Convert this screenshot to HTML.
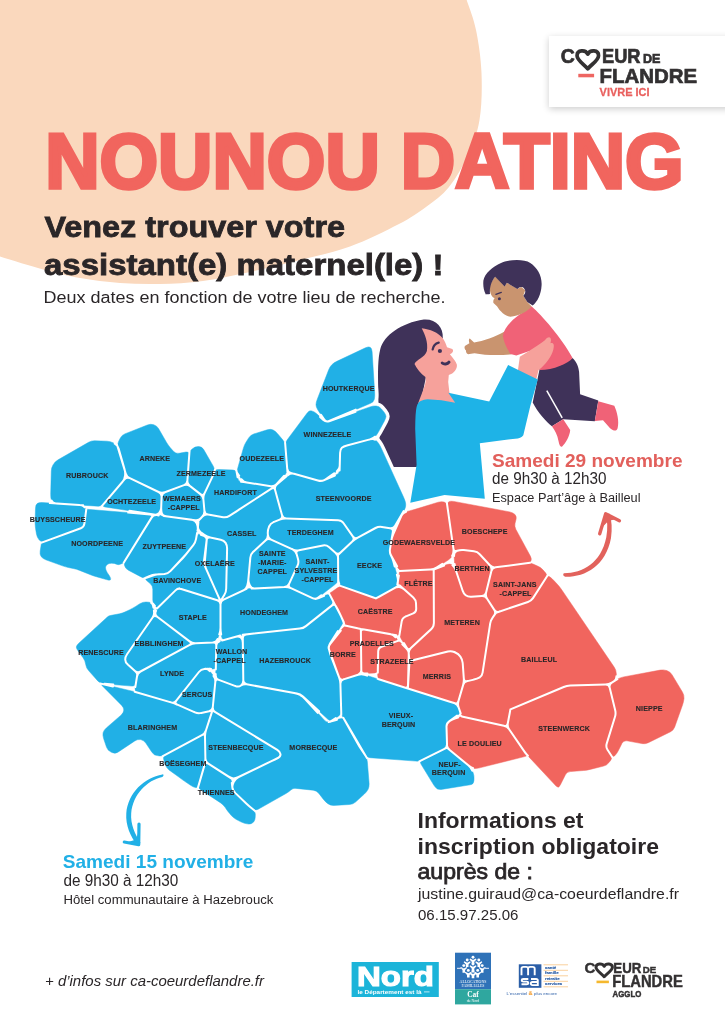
<!DOCTYPE html>
<html lang="fr"><head><meta charset="utf-8"><title>Nounou Dating</title>
<style>html,body{margin:0;padding:0;background:#fff}body{width:725px;height:1029px;overflow:hidden}svg{display:block;font-family:"Liberation Sans",sans-serif}</style></head><body>
<svg width="725" height="1029" viewBox="0 0 725 1029">
<defs><filter id="sh" x="-10%" y="-20%" width="120%" height="150%"><feGaussianBlur in="SourceAlpha" stdDeviation="3.6"/><feOffset dy="1.5"/><feComponentTransfer><feFuncA type="linear" slope="0.2"/></feComponentTransfer><feMerge><feMergeNode/><feMergeNode in="SourceGraphic"/></feMerge></filter></defs>
<rect width="725" height="1029" fill="#fff"/>
<path d="M466.0 -2.0 C468.7 6.3 473.4 17.5 476.0 30.0 C478.6 42.5 480.9 58.0 481.5 73.0 C482.1 88.0 481.8 106.3 479.5 120.0 C477.2 133.7 473.1 143.8 468.0 155.0 C462.9 166.2 456.0 178.3 449.0 187.0 C442.0 195.7 434.3 200.8 426.0 207.0 C417.7 213.2 411.7 217.4 399.0 224.0 C386.3 230.6 366.5 240.5 350.0 246.5 C333.5 252.5 316.7 255.8 300.0 260.0 C283.3 264.2 266.2 268.5 250.0 272.0 C233.8 275.5 218.0 279.0 203.0 281.0 C188.0 283.0 173.8 283.7 160.0 284.0 C146.2 284.3 133.3 284.0 120.0 283.0 C106.7 282.0 92.5 280.2 80.0 278.0 C67.5 275.8 58.3 273.6 45.0 270.0 C31.7 266.4 10.8 259.8 0.0 256.5 C-10.8 253.2 -16.7 296.1 -20.0 250.0 C-23.3 203.9 -100.0 25.0 -20.0 -20.0 C60.0 -65.0 379.0 -23.0 460.0 -20.0 C541.0 -17.0 463.3 -10.3 466.0 -2.0Z" fill="#FAD8BD"/>
<rect x="549" y="36" width="190" height="71" fill="#fff" filter="url(#sh)"/>
<g font-weight="700" fill="#333132" stroke="#333132" stroke-width="0.7">
<text x="560.8" y="63.4" font-size="20.4" textLength="14" lengthAdjust="spacingAndGlyphs">C</text>
<path d="M587.80 54.14 C585.65 49.62 577.05 49.62 577.05 55.64 C577.05 60.34 584.57 64.66 587.80 68.80 C591.02 64.66 598.55 60.34 598.55 55.64 C598.55 49.62 589.95 49.62 587.80 54.14Z" fill="none" stroke="#333132" stroke-width="3.70" stroke-linejoin="round"/>
<text x="602" y="63.4" font-size="20.4" textLength="38.5" lengthAdjust="spacingAndGlyphs">EUR</text>
<text x="643" y="63.4" font-size="13" textLength="17.5" lengthAdjust="spacingAndGlyphs">DE</text>
<text x="599.5" y="82.5" font-size="20.4" textLength="97.5" lengthAdjust="spacingAndGlyphs">FLANDRE</text>
<text x="599.6" y="95.8" font-size="11.8" fill="#E9605E" stroke="#E9605E" stroke-width="0.3" textLength="50" lengthAdjust="spacingAndGlyphs">VIVRE ICI</text>
</g>
<rect x="578.3" y="73.8" width="15.8" height="3.5" fill="#EE6662"/>
<text x="45.2" y="188.4" font-size="77.6" font-weight="700" fill="#F1655E" stroke="#F1655E" stroke-width="3.6" stroke-linejoin="miter" textLength="638.5" lengthAdjust="spacingAndGlyphs">NOUNOU DATING</text>
<text x="44.5" y="237" font-size="29" font-weight="700" fill="#2A2628" stroke="#2A2628" stroke-width="0.8" textLength="300.5" lengthAdjust="spacingAndGlyphs">Venez trouver votre</text>
<text x="44" y="275" font-size="29" font-weight="700" fill="#2A2628" stroke="#2A2628" stroke-width="0.8" textLength="399.5" lengthAdjust="spacingAndGlyphs">assistant(e) maternel(le) !</text>
<text x="43.5" y="303.2" font-size="16" fill="#2A2628" textLength="402" lengthAdjust="spacingAndGlyphs">Deux dates en fonction de votre lieu de recherche.</text>
<path d="M 423.8 319.6 C 436.2 318.8 443.4 327.2 442.8 338.2 L 432.1 346.9 L 420.7 402.8 L 416.6 419.3 L 417.2 466.9 L 390.7 466.9 C 386.6 464.8 381.4 452.4 379.5 440.0 C 378.7 423.4 378.3 406.9 378.3 390.3 C 377.7 371.7 377.9 358.3 380.3 349.0 C 384.1 335.5 401.0 323.1 423.8 319.6 Z" fill="#3F3259"/>
<path d="M 421.7 328.3 C 430.0 329.1 438.3 332.8 442.8 338.2 C 444.9 341.1 446.1 344.4 447.0 347.3 L 452.3 349.0 C 454.0 350.6 452.8 353.1 449.9 354.3 C 452.8 358.3 456.1 361.4 456.9 364.7 C 457.3 369.2 453.8 373.4 448.8 375.0 L 448.2 382.1 L 449.4 392.4 L 456.9 403.6 L 432.1 402.8 L 418.0 403.8 C 422.8 390.3 427.1 382.1 425.4 376.9 C 420.7 373.4 416.8 368.8 414.5 363.9 C 416.6 359.3 424.8 357.7 426.9 351.0 C 428.3 342.8 425.0 334.5 421.7 328.3 Z" fill="#F6A19B"/>
<path d="M 432.7 349.4 C 433.3 345.7 435.4 343.4 438.7 342.6" fill="none" stroke="#3F3259" stroke-width="2.3" stroke-linecap="round"/>
<circle cx="439.9" cy="351.0" r="2.1" fill="#3F3259"/>
<path d="M 442.2 363.0 C 444.1 364.7 447.4 364.3 449.0 362.2" fill="none" stroke="#3F3259" stroke-width="3" stroke-linecap="round"/>
<path d="M 539.7 368.4 L 560.8 364.9 L 572.6 357.9 C 577.2 362.6 578.6 367.2 579.1 371.9 L 580.1 394.2 L 598.3 400.5 L 594.8 421.2 L 563.2 419.3 L 551.9 426.3 C 546.8 422.3 537.4 411.8 532.7 402.4 Z" fill="#3F3259"/>
<path d="M 546.8 390.7 L 562.2 417.9" fill="none" stroke="#fff" stroke-width="1.5"/>
<path d="M 598.3 401.2 L 614.3 405.7 C 617.1 411.8 619.4 421.2 617.6 428.2 C 616.6 431.7 613.6 431.0 610.1 428.2 L 603.0 420.2 L 594.8 420.9 Z" fill="#F06277"/>
<path d="M 551.9 426.3 L 563.2 419.3 L 570.2 430.1 C 569.7 436.4 565.5 443.4 562.2 446.5 C 560.4 447.4 559.4 445.8 558.5 441.1 C 557.5 435.2 555.0 430.6 551.9 426.3 Z" fill="#F06277"/>
<path d="M 504.6 331.6 C 495.2 337.2 483.4 341.0 474.1 342.6 L 469.8 338.4 C 468.4 339.1 468.9 341.9 469.4 343.3 L 465.2 345.7 C 463.8 347.1 464.7 349.4 466.1 350.4 C 465.6 352.2 467.0 354.6 469.4 354.1 L 474.5 353.2 C 485.8 355.5 499.9 355.5 511.6 354.3 Z" fill="#C9946F"/>
<path d="M 518.6 315.2 L 531.5 306.3 C 542.1 315.7 560.8 336.8 572.6 357.9 C 567.9 363.7 553.8 369.6 539.7 370.1 L 530.3 350.8 L 516.3 355.5 L 510.4 353.9 C 506.9 348.5 503.4 341.4 502.9 335.6 C 504.6 327.4 511.6 320.3 518.6 315.2 Z" fill="#F06277"/>
<path d="M 517.4 374.3 L 519.8 356.7 C 525.7 353.2 537.4 346.1 544.9 340.3 C 547.2 336.8 551.0 335.8 551.0 340.3 L 550.5 343.3 C 553.3 342.4 554.7 344.3 553.3 349.7 C 551.9 355.5 545.6 364.9 538.6 370.1 L 536.2 379.4 Z" fill="#F6A19B"/>
<path d="M448.3 392.8 L489.2 401.5 L508.1 364.9 L537.8 379.4 L530.3 405.9 L523.3 435.2 Q521 438.5 515.1 438.7 L479.8 443.2 L484.8 498.8 L444.5 495 L410.3 502.8 L416.6 464.8 L415.2 429 Q415.3 412 416.6 406.9 Q418 402 420.7 401.1 Q424 399.3 427.6 399.3 L441.4 400.3 L455.2 402.8 Z" fill="#1EB3E7"/>
<path d="M 495.2 276.3 L 504.6 286.3 L 506.9 282.8 L 517.4 288.7 L 521.4 287.0 L 525.2 290.3 L 523.3 295.7 L 527.3 302.1 L 531.5 306.3 C 528.0 311.4 518.6 316.1 510.4 316.8 C 505.7 316.6 499.9 311.4 497.0 306.3 L 493.5 303.0 C 492.8 301.1 493.8 299.2 494.7 298.1 C 491.9 296.9 490.0 294.6 489.3 285.2 Z" fill="#C9946F"/>
<path d="M 483.4 280.5 C 484.6 273.4 492.8 266.4 501.0 262.9 C 506.9 259.8 523.3 258.2 530.3 262.9 C 537.4 267.6 542.1 275.8 541.6 285.2 C 541.1 294.6 537.4 301.6 532.7 305.6 L 527.3 302.1 L 523.3 295.7 C 526.1 293.4 526.1 288.7 522.1 287.0 C 520.5 286.6 518.6 287.5 517.4 288.9 L 506.9 282.8 L 504.6 286.6 L 495.2 276.7 C 491.7 280.5 489.3 287.5 490.0 294.1 C 487.7 294.6 486.3 294.1 485.8 294.6 C 483.4 289.9 483.0 285.2 483.4 280.5 Z" fill="#3F3259"/>
<path d="M 495.9 294.3 L 501.3 292.4" fill="none" stroke="#3F3259" stroke-width="1.3" stroke-linecap="round"/>
<circle cx="499.4" cy="298.8" r="1.5" fill="#3F3259"/>
<path d="M51.3 471.1 Q51.4 467.7 53.1 464.8 L53.4 464.4 Q55.1 461.5 58.1 459.8 L88.6 442.3 Q91.5 440.6 94.9 440.8 L107.0 441.2 Q110.4 441.4 113.4 442.9 L114.7 443.6 Q117.7 445.1 118.6 448.4 L124.5 469.1 Q125.4 472.4 125.1 475.8 L125.0 475.8 Q124.7 479.2 122.5 481.8 L103.8 503.8 Q101.6 506.4 98.2 506.2 L55.9 503.5 Q52.5 503.3 51.6 500.6 L51.6 500.6 Q50.6 497.9 50.7 494.5Z M118.0 448.0 Q117.0 444.8 118.5 441.7 L120.2 438.2 Q121.7 435.1 124.8 433.9 L147.4 425.0 Q150.5 423.8 153.7 424.7 L153.7 424.7 Q156.8 425.6 158.5 428.5 L166.4 442.2 Q168.1 445.1 170.3 447.7 L173.4 451.3 Q175.6 453.9 179.0 453.3 L186.1 452.0 Q189.5 451.4 189.2 454.8 L187.4 480.5 Q187.1 483.9 184.0 485.1 L164.9 492.2 Q161.7 493.4 158.6 492.0 L129.8 478.2 Q126.7 476.8 125.7 473.5Z M104.9 506.9 Q101.6 506.4 103.8 503.8 L124.5 479.4 Q126.7 476.8 129.8 478.2 L158.6 492.0 Q161.7 493.4 161.6 496.8 L161.2 507.4 Q161.1 510.8 159.2 513.0 L159.2 513.0 Q157.2 515.2 153.9 514.6Z M35.5 508.3 Q35.6 504.9 37.2 503.6 L37.2 503.6 Q38.8 502.4 42.2 502.6 L79.4 505.0 Q82.8 505.2 84.6 507.2 L84.6 507.2 Q86.3 509.2 85.8 512.6 L84.4 523.7 Q84.0 527.1 80.8 528.3 L44.8 541.5 Q41.6 542.6 39.3 540.1 L39.3 540.1 Q37.1 537.5 36.5 534.2 L35.6 528.8 Q35.1 525.5 35.1 522.1Z M85.8 512.6 Q86.3 509.2 86.3 509.2 L86.3 509.2 Q86.3 509.2 89.7 509.5 L150.0 514.4 Q153.4 514.7 151.6 517.6 L125.5 559.8 Q123.7 562.7 123.7 562.7 L123.7 562.7 Q123.7 562.7 121.0 563.9 L121.0 563.9 Q118.3 565.2 116.4 564.2 L116.4 564.2 Q114.6 563.2 111.7 563.2 L111.7 563.2 Q108.8 563.2 107.2 564.5 L107.2 564.5 Q105.5 565.8 105.5 567.8 L105.5 567.8 Q105.5 569.8 107.3 572.7 L109.5 576.0 Q111.3 578.9 110.5 579.7 L110.5 579.7 Q109.7 580.6 106.4 579.6 L96.4 576.7 Q93.1 575.8 89.9 574.5 L79.7 570.4 Q76.6 569.1 73.2 568.5 L68.3 567.5 Q65.0 566.8 61.8 565.6 L45.8 559.8 Q42.6 558.6 41.1 556.5 L41.1 556.5 Q39.6 554.3 40.2 551.0 L41.0 546.0 Q41.6 542.6 41.6 542.6 L41.6 542.6 Q41.6 542.6 44.8 541.5 L80.8 528.3 Q84.0 527.1 84.4 523.7Z M151.6 517.6 Q153.4 514.7 156.8 515.1 L192.0 519.8 Q195.4 520.2 196.7 523.4 L196.9 523.8 Q198.2 526.9 197.6 530.3 L196.0 539.1 Q195.4 542.4 193.3 545.1 L185.2 555.3 Q183.0 558.0 180.7 560.4 L170.4 571.1 Q168.0 573.6 164.6 573.9 L155.8 574.6 Q152.5 574.9 149.3 576.2 L147.3 577.1 Q144.2 578.5 141.1 576.9 L128.4 570.2 Q125.4 568.7 124.6 565.7 L124.6 565.7 Q123.7 562.7 125.5 559.8Z M161.6 496.8 Q161.7 493.4 164.9 492.2 L184.0 485.1 Q187.1 483.9 189.8 485.9 L200.4 494.1 Q203.1 496.1 203.4 499.5 L204.4 510.6 Q204.7 514.0 202.4 516.5 L200.9 518.2 Q198.6 520.7 195.2 520.2 L165.9 516.3 Q162.5 515.9 161.8 513.3 L161.8 513.3 Q161.1 510.8 161.2 507.4Z M189.2 454.8 Q189.5 451.4 192.0 449.1 L192.2 448.9 Q194.8 446.6 198.2 446.6 L198.6 446.6 Q202.0 446.6 203.7 449.6 L213.4 466.4 Q215.1 469.3 214.3 471.8 L214.3 471.8 Q213.6 474.3 212.1 477.4 L204.6 493.1 Q203.1 496.1 200.4 494.1 L189.8 485.9 Q187.1 483.9 187.4 480.5Z M214.3 471.8 Q215.1 469.3 218.5 469.5 L232.9 470.0 Q236.3 470.1 236.9 473.5 L237.8 478.2 Q238.4 481.5 241.0 481.8 L241.0 481.8 Q243.5 482.0 246.8 482.5 L270.8 486.2 Q274.2 486.7 274.2 486.7 L274.2 486.7 Q274.2 486.7 271.4 488.6 L229.4 515.9 Q226.5 517.8 223.2 517.2 L208.1 514.6 Q204.7 514.0 204.4 510.6 L203.4 499.5 Q203.1 496.1 204.6 493.1 L212.1 477.4 Q213.6 474.3 214.3 471.8Z M243.3 448.4 Q244.2 445.1 246.0 442.2 L248.7 437.9 Q250.5 435.1 253.7 434.0 L267.3 429.8 Q270.6 428.8 273.1 430.0 L273.1 430.0 Q275.6 431.3 277.8 433.9 L282.9 440.1 Q285.1 442.7 285.4 446.1 L287.2 468.6 Q287.5 472.0 285.2 474.5 L276.5 484.2 Q274.2 486.7 270.8 486.2 L246.8 482.5 Q243.5 482.0 241.6 479.2 L238.6 474.8 Q236.6 472.0 237.6 468.7Z M328.7 369.8 Q329.9 366.6 331.9 364.7 L331.9 364.7 Q333.8 362.8 336.9 361.3 L365.5 347.8 Q368.6 346.3 370.2 347.3 L370.2 347.3 Q371.8 348.3 372.1 351.7 L374.7 393.2 Q374.9 396.6 374.3 399.3 L374.3 399.3 Q373.8 402.0 370.6 403.3 L329.1 421.0 Q325.9 422.3 324.1 419.4 L317.9 410.0 Q316.0 407.2 316.0 404.8 L316.0 404.8 Q316.0 402.3 317.3 399.2Z M307.2 413.0 Q309.2 410.2 311.7 410.9 L311.7 410.9 Q314.2 411.5 316.7 413.8 L323.4 420.0 Q325.9 422.3 329.1 421.2 L370.0 406.9 Q373.2 405.7 376.2 406.0 L376.2 406.0 Q379.2 406.2 381.4 408.9 L383.9 411.9 Q386.0 414.5 386.0 416.3 L386.0 416.3 Q386.0 418.0 384.4 421.0 L378.4 432.1 Q376.7 435.1 375.0 436.8 L375.0 436.8 Q373.2 438.5 369.9 439.4 L346.9 445.5 Q343.6 446.3 341.9 447.8 L341.9 447.8 Q340.2 449.3 340.1 452.7 L339.9 459.6 Q339.8 463.0 339.7 466.1 L339.7 466.1 Q339.6 469.3 336.8 471.3 L327.7 477.8 Q325.0 479.8 323.1 480.6 L323.1 480.6 Q321.1 481.4 317.9 480.5 L290.8 472.9 Q287.5 472.0 287.2 468.6 L285.4 446.1 Q285.1 442.7 287.1 440.0Z M288.1 475.1 Q290.7 472.9 294.0 473.8 L317.9 480.5 Q321.1 481.4 324.3 480.1 L336.4 474.8 Q339.5 473.5 339.6 470.1 L340.1 452.7 Q340.2 449.3 341.9 447.8 L341.9 447.8 Q343.6 446.3 346.9 445.5 L369.9 439.4 Q373.2 438.5 375.0 439.7 L375.0 439.7 Q376.9 440.8 378.5 443.3 L378.5 443.3 Q380.2 445.8 381.6 448.9 L403.5 497.1 Q404.9 500.2 405.4 502.2 L405.4 502.2 Q405.9 504.2 405.6 506.4 L405.6 506.4 Q405.2 508.5 403.5 511.5 L395.1 525.8 Q393.4 528.7 390.0 528.2 L381.9 526.9 Q378.5 526.4 375.5 528.0 L357.8 537.6 Q354.8 539.2 352.8 536.4 L343.6 523.2 Q341.7 520.4 338.3 520.3 L286.3 518.5 Q282.9 518.4 282.0 515.1 L275.1 490.0 Q274.2 486.7 276.8 484.5Z M198.2 524.1 Q198.6 520.7 200.9 518.2 L202.4 516.5 Q204.7 514.0 208.1 514.6 L223.2 517.2 Q226.5 517.8 229.4 515.9 L233.3 513.4 Q236.2 511.5 239.0 509.6 L271.4 488.6 Q274.2 486.7 275.1 490.0 L275.6 491.8 Q276.5 495.1 277.4 498.4 L282.0 515.1 Q282.9 518.4 279.7 519.6 L273.5 522.1 Q270.4 523.3 269.1 526.5 L268.9 527.1 Q267.6 530.2 267.8 533.6 L267.9 534.8 Q268.0 538.2 265.5 540.5 L253.0 552.1 Q250.5 554.4 250.3 557.8 L248.4 578.9 Q248.2 582.3 247.3 585.6 L247.3 585.6 Q246.5 588.8 243.5 590.3 L223.6 599.7 Q220.5 601.2 220.5 601.2 L220.5 601.2 Q220.5 601.2 222.3 598.3 L224.4 594.7 Q226.2 591.8 226.2 588.4 L227.1 548.8 Q227.2 545.4 225.6 542.9 L225.6 542.9 Q224.0 540.4 220.7 539.7 L210.3 537.6 Q207.0 536.9 204.3 534.9 L200.4 532.0 Q197.7 530.0 198.0 526.6Z M206.6 540.3 Q207.0 536.9 210.3 537.6 L220.7 539.7 Q224.0 540.4 225.6 542.9 L225.6 542.9 Q227.2 545.4 227.1 548.8 L226.2 588.4 Q226.2 591.8 224.4 594.7 L222.3 598.3 Q220.5 601.2 219.1 598.1 L205.1 566.6 Q203.7 563.5 204.1 560.1Z M146.8 580.7 Q144.2 578.5 147.4 577.4 L152.2 575.7 Q155.4 574.6 158.8 574.3 L164.6 573.9 Q168.0 573.6 170.3 571.1 L183.5 556.9 Q185.8 554.5 187.9 551.8 L193.3 545.1 Q195.4 542.4 196.0 539.1 L196.4 536.7 Q197.0 533.3 200.2 534.5 L203.8 535.8 Q207.0 536.9 206.7 540.3 L204.8 561.8 Q204.5 565.2 205.9 568.3 L219.1 598.1 Q220.5 601.2 217.3 600.2 L181.2 589.0 Q177.9 588.0 175.5 590.4 L159.4 606.1 Q157.0 608.5 154.9 606.0 L154.9 606.0 Q152.8 603.5 152.8 600.1 L152.8 589.2 Q152.8 585.8 150.2 583.6Z M269.1 526.5 Q270.4 523.3 273.5 522.1 L279.7 519.6 Q282.9 518.4 286.3 518.5 L338.3 520.3 Q341.7 520.4 343.6 523.2 L352.8 536.4 Q354.8 539.2 352.3 541.5 L340.5 552.6 Q338.0 554.9 335.4 552.7 L328.9 547.1 Q326.4 544.9 323.0 545.5 L299.0 550.2 Q295.6 550.8 292.6 549.4 L271.1 539.6 Q268.0 538.2 267.9 534.8 L267.8 533.6 Q267.6 530.2 268.9 527.1Z M265.5 540.5 Q268.0 538.2 271.1 539.6 L292.6 549.4 Q295.6 550.8 296.6 554.1 L298.0 559.1 Q299.0 562.3 297.6 565.4 L289.2 583.6 Q287.8 586.7 284.4 586.9 L255.0 588.4 Q251.6 588.6 250.0 585.6 L249.8 585.3 Q248.2 582.3 248.4 578.9 L250.3 557.8 Q250.5 554.4 253.0 552.1Z M296.6 554.1 Q295.6 550.8 299.0 550.2 L323.0 545.5 Q326.4 544.9 328.9 547.1 L335.4 552.7 Q338.0 554.9 338.1 558.3 L338.2 578.6 Q338.2 582.0 335.5 584.1 L318.2 597.5 Q315.6 599.6 312.5 598.2 L290.9 588.1 Q287.8 586.7 289.2 583.6 L297.6 565.4 Q299.0 562.3 298.0 559.1Z M338.0 554.9 Q338.0 554.9 340.5 552.6 L352.3 541.5 Q354.8 539.2 357.8 537.6 L375.5 528.0 Q378.5 526.4 381.9 526.9 L390.0 528.2 Q393.4 528.7 392.8 532.1 L390.0 549.2 Q389.4 552.6 391.0 555.4 L391.0 555.4 Q392.6 558.3 393.4 561.6 L394.5 566.1 Q395.4 569.4 396.3 572.6 L397.4 576.8 Q398.4 580.1 397.6 583.4 L397.5 583.5 Q396.7 586.8 393.7 588.5 L378.9 596.8 Q375.9 598.4 375.9 598.4 L375.9 598.4 Q375.9 598.4 372.7 597.3 L343.6 587.0 Q340.4 585.9 339.3 583.9 L339.3 583.9 Q338.2 582.0 338.2 578.6 L338.1 558.3 Q338.0 554.9 338.0 554.9Z M220.5 604.6 Q220.5 601.2 223.6 599.7 L243.5 590.3 Q246.5 588.8 249.9 588.6 L284.4 586.9 Q287.8 586.7 290.9 588.1 L312.5 598.2 Q315.6 599.6 318.7 598.2 L326.1 595.0 Q329.2 593.6 330.8 596.6 L332.8 600.5 Q334.4 603.5 331.7 605.6 L305.9 626.1 Q303.2 628.3 299.8 628.6 L246.1 634.4 Q242.7 634.7 239.4 635.7 L225.6 639.5 Q222.4 640.4 221.7 637.1 L221.2 634.5 Q220.5 631.2 220.5 627.8Z M155.7 611.6 Q157.0 608.5 159.4 606.1 L175.5 590.4 Q177.9 588.0 179.6 588.6 L179.6 588.6 Q181.3 589.1 184.6 590.1 L217.3 600.2 Q220.5 601.2 220.5 604.6 L220.5 627.8 Q220.5 631.2 219.3 634.3 L217.5 639.0 Q216.3 642.2 212.9 642.4 L195.7 643.3 Q192.3 643.5 189.6 641.4 L157.2 616.8 Q154.5 614.7 155.7 611.6Z M152.6 617.5 Q154.5 614.7 157.2 616.8 L189.6 641.4 Q192.3 643.5 189.3 645.1 L140.5 671.5 Q137.5 673.1 135.0 670.9 L127.8 664.4 Q125.2 662.1 125.2 659.4 L125.2 659.4 Q125.2 656.8 127.2 654.0Z M76.3 647.0 Q76.3 645.5 78.8 643.2 L105.2 619.0 Q107.7 616.6 108.7 616.1 L108.7 616.1 Q109.7 615.6 113.0 615.0 L119.6 613.8 Q122.9 613.2 125.9 611.6 L129.8 609.7 Q132.8 608.2 135.7 606.4 L139.9 603.7 Q142.8 601.9 146.1 602.0 L146.1 602.0 Q149.4 602.1 151.1 602.8 L151.1 602.8 Q152.8 603.5 153.3 606.9 L154.0 611.4 Q154.5 614.7 152.6 617.5 L127.2 654.0 Q125.2 656.8 125.2 659.4 L125.2 659.4 Q125.2 662.1 127.8 664.4 L135.0 670.9 Q137.5 673.1 137.2 674.9 L137.2 674.9 Q137.0 676.8 136.4 680.1 L136.0 683.1 Q135.4 686.4 132.1 686.1 L103.5 683.8 Q100.1 683.5 97.8 680.9 L88.6 670.6 Q86.3 668.1 85.8 664.8 L85.6 663.9 Q85.1 660.6 83.1 657.8 L78.3 651.3 Q76.3 648.5 76.3 647.0Z M137.0 676.5 Q137.5 673.1 140.5 671.5 L189.3 645.1 Q192.3 643.5 195.7 643.3 L212.9 642.4 Q216.3 642.2 216.3 645.6 L215.9 666.1 Q215.8 669.5 212.4 669.0 L211.1 668.9 Q207.7 668.5 204.4 668.9 L204.4 668.9 Q201.0 669.3 198.9 672.0 L176.3 700.7 Q174.2 703.4 171.0 702.4 L137.9 692.6 Q134.6 691.7 135.1 688.3Z M177.4 704.7 Q174.2 703.4 176.3 700.7 L198.9 672.0 Q201.0 669.3 204.4 668.9 L204.4 668.9 Q207.7 668.5 209.8 671.1 L213.5 676.0 Q215.6 678.7 215.3 682.1 L212.8 707.0 Q212.4 710.4 209.1 711.2 L201.3 712.9 Q198.0 713.7 194.9 712.3Z M216.3 645.6 Q216.3 642.2 219.6 641.2 L235.7 636.7 Q238.9 635.8 240.9 637.6 L240.9 637.6 Q242.8 639.4 242.8 642.8 L243.3 680.3 Q243.4 683.7 241.0 685.5 L241.0 685.5 Q238.7 687.3 235.5 686.1 L218.8 679.9 Q215.6 678.7 215.7 675.3Z M242.8 638.1 Q242.7 634.7 246.1 634.4 L299.8 628.6 Q303.2 628.3 305.9 626.1 L331.7 605.6 Q334.4 603.5 336.0 606.2 L336.0 606.2 Q337.6 608.9 339.0 611.9 L342.3 618.8 Q343.7 621.9 341.9 624.7 L330.0 643.6 Q328.2 646.5 329.1 649.8 L329.3 650.5 Q330.1 653.8 331.3 656.9 L339.1 677.3 Q340.3 680.5 340.4 683.9 L341.2 711.0 Q341.3 714.4 338.5 716.2 L333.2 719.8 Q330.4 721.6 327.9 719.3 L302.7 696.3 Q300.2 694.0 296.9 693.4 L246.7 684.3 Q243.4 683.7 243.3 680.3Z M102.4 685.9 Q100.1 683.5 103.4 684.3 L131.3 690.9 Q134.6 691.7 137.9 692.6 L171.0 702.4 Q174.2 703.4 177.4 704.7 L194.9 712.3 Q198.0 713.7 201.3 712.9 L209.1 711.2 Q212.4 710.4 211.4 713.6 L210.2 717.3 Q209.1 720.6 208.1 723.8 L206.0 730.2 Q204.9 733.5 201.9 735.1 L165.8 754.6 Q162.8 756.2 159.4 755.9 L157.4 755.6 Q154.0 755.3 152.1 752.5 L145.8 743.1 Q143.9 740.2 140.8 739.6 L140.8 739.6 Q137.7 739.0 134.8 740.9 L117.9 752.2 Q115.1 754.1 112.0 752.5 L110.6 751.8 Q107.5 750.3 106.5 747.1 L103.6 738.5 Q102.5 735.2 103.1 732.7 L103.1 732.7 Q103.8 730.2 106.3 728.0 L121.3 714.9 Q123.8 712.6 123.8 710.1 L123.8 710.1 Q123.8 707.6 121.5 705.2Z M163.7 759.4 Q162.8 756.2 165.8 754.6 L201.9 735.1 Q204.9 733.5 205.0 736.9 L205.4 758.4 Q205.4 761.8 204.5 765.1 L198.8 784.7 Q197.9 787.9 195.6 787.6 L195.6 787.6 Q193.4 787.2 190.6 785.3 L184.4 781.1 Q181.6 779.2 178.9 777.1 L169.0 769.9 Q166.3 767.9 165.3 764.6Z M211.4 713.6 Q212.4 710.4 212.4 710.4 L212.4 710.4 Q212.4 710.4 215.3 712.2 L277.3 749.9 Q280.2 751.7 280.5 754.2 L280.5 754.2 Q280.7 756.6 277.9 758.0 L277.9 758.0 Q275.0 759.4 272.0 760.8 L238.6 777.0 Q235.5 778.4 233.4 778.4 L233.4 778.4 Q231.2 778.3 228.3 776.4 L208.3 763.7 Q205.4 761.8 205.4 758.4 L205.0 736.9 Q204.9 733.5 206.0 730.2Z M200.7 789.8 Q197.9 787.9 198.8 784.7 L204.5 765.1 Q205.4 761.8 208.3 763.7 L228.3 776.4 Q231.2 778.3 231.6 781.7 L232.3 787.1 Q232.8 790.5 235.2 792.9 L246.0 803.2 Q248.5 805.6 251.1 807.7 L252.5 808.8 Q255.1 811.0 255.3 814.1 L255.3 814.1 Q255.4 817.3 254.8 819.8 L254.8 819.8 Q254.1 822.3 251.6 823.5 L251.6 823.5 Q249.1 824.6 245.8 823.6 L244.6 823.3 Q241.3 822.3 238.4 820.6 L236.0 819.3 Q233.0 817.6 230.9 815.0 L229.7 813.6 Q227.5 811.0 225.7 808.2 L225.3 807.6 Q223.5 804.8 220.7 802.9Z M215.3 682.1 Q215.6 678.7 218.8 679.9 L235.5 686.1 Q238.7 687.3 241.0 685.5 L241.0 685.5 Q243.4 683.7 246.7 684.3 L294.1 692.9 Q297.4 693.5 300.1 695.0 L300.1 695.0 Q302.8 696.4 305.1 699.0 L324.4 720.2 Q326.6 722.8 329.9 721.8 L340.0 718.8 Q343.3 717.8 344.4 719.8 L344.4 719.8 Q345.5 721.8 347.2 724.8 L357.7 743.4 Q359.3 746.3 361.2 749.2 L365.2 755.2 Q367.0 758.0 367.3 761.4 L369.1 783.4 Q369.3 786.8 368.1 789.3 L368.1 789.3 Q366.8 791.8 364.3 794.1 L355.5 802.1 Q353.0 804.3 349.6 804.5 L333.8 805.4 Q330.4 805.6 327.9 803.7 L327.9 803.7 Q325.4 801.8 323.3 799.2 L318.7 793.2 Q316.6 790.5 313.2 790.2 L296.1 788.4 Q292.8 788.0 290.9 789.9 L290.9 789.9 Q289.0 791.8 286.0 793.5 L258.1 809.3 Q255.1 811.0 252.5 808.8 L251.1 807.7 Q248.5 805.6 246.0 803.2 L235.2 792.9 Q232.8 790.5 232.4 788.0 L232.4 788.0 Q232.1 785.4 233.6 782.4 L234.0 781.5 Q235.5 778.4 238.6 777.0 L277.7 758.1 Q280.7 756.6 280.5 754.2 L280.5 754.2 Q280.2 751.7 277.3 749.9 L215.3 712.2 Q212.4 710.4 212.8 707.0Z M340.4 683.9 Q340.3 680.5 343.5 679.4 L358.1 674.7 Q361.3 673.7 364.5 674.7 L404.6 687.5 Q407.9 688.5 411.1 689.5 L454.3 703.1 Q457.5 704.2 458.6 707.4 L459.5 709.8 Q460.6 713.1 457.9 715.1 L449.2 721.4 Q446.4 723.4 446.5 726.8 L447.0 744.3 Q447.1 747.7 444.0 749.2 L422.4 759.9 Q419.3 761.4 415.9 761.1 L370.0 757.7 Q366.6 757.4 364.9 754.5 L343.0 717.3 Q341.3 714.4 341.2 711.0Z M421.1 764.3 Q419.3 761.4 422.4 759.9 L444.0 749.2 Q447.1 747.7 447.1 747.7 L447.1 747.7 Q447.1 747.7 449.7 749.9 L468.3 765.3 Q471.0 767.5 472.3 770.7 L473.0 772.4 Q474.3 775.6 474.0 779.0 L473.9 780.9 Q473.6 784.3 470.2 784.8 L442.7 789.2 Q439.3 789.7 437.4 788.9 L437.4 788.9 Q435.6 788.0 433.8 785.1Z M409.3 510.9 Q412.6 510.0 415.9 509.1 L438.3 502.2 Q441.5 501.3 444.2 502.1 L444.2 502.1 Q446.9 503.0 447.4 506.4 L453.4 548.7 Q453.9 552.0 452.5 555.1 L452.5 555.2 Q451.0 558.2 448.2 560.1 L436.5 567.6 Q433.7 569.5 430.3 569.6 L403.1 570.8 Q399.7 570.9 398.0 567.9 L391.1 555.6 Q389.4 552.6 390.0 549.2 L391.4 540.7 Q391.9 537.3 393.3 534.2 L401.5 515.6 Q402.9 512.5 406.2 511.7Z M447.4 506.4 Q446.9 503.0 448.6 501.9 L448.6 501.9 Q450.3 500.8 453.6 501.4 L509.7 511.9 Q513.0 512.6 514.9 514.4 L514.9 514.4 Q516.8 516.3 516.0 519.6 L515.1 523.1 Q514.3 526.4 515.9 529.4 L530.3 556.0 Q531.9 559.0 530.9 560.9 L530.9 560.9 Q530.0 562.8 526.6 563.2 L495.6 567.3 Q492.2 567.8 489.9 565.3 L479.7 554.2 Q477.4 551.7 474.0 551.3 L463.7 550.0 Q460.3 549.6 457.2 550.8 L457.1 550.8 Q453.9 552.0 453.4 548.7Z M454.1 555.4 Q453.9 552.0 457.1 550.8 L457.2 550.8 Q460.3 549.6 463.7 550.0 L474.0 551.3 Q477.4 551.7 479.7 554.2 L489.9 565.3 Q492.2 567.8 491.4 571.1 L486.1 592.5 Q485.3 595.8 481.9 596.0 L471.3 596.8 Q467.9 597.0 465.7 595.3 L465.7 595.3 Q463.6 593.5 462.5 590.3 L455.9 570.5 Q454.8 567.3 454.6 563.9Z M491.4 571.1 Q492.2 567.8 495.6 567.3 L526.6 563.2 Q530.0 562.8 533.1 564.1 L537.5 566.0 Q540.7 567.3 542.9 569.8 L545.5 572.8 Q547.7 575.3 545.8 578.2 L533.0 598.1 Q531.1 600.9 527.9 602.0 L499.3 611.6 Q496.1 612.7 494.3 609.9 L487.1 598.7 Q485.3 595.8 486.1 592.5Z M399.1 574.3 Q399.7 570.9 399.7 570.9 L399.7 570.9 Q399.7 570.9 403.1 570.8 L430.3 569.6 Q433.7 569.5 433.7 569.5 L433.7 569.5 Q433.7 569.5 433.7 572.9 L433.9 623.1 Q433.9 626.5 431.4 628.9 L410.9 648.1 Q408.4 650.5 406.6 647.6 L401.1 638.7 Q399.3 635.8 399.9 632.4 L401.7 621.3 Q402.2 617.9 405.4 616.6 L413.2 613.4 Q416.3 612.1 416.2 608.7 L416.0 603.1 Q415.8 599.7 413.3 597.4 L400.1 585.7 Q397.5 583.4 398.1 580.1Z M433.7 569.5 Q433.7 569.5 436.9 568.3 L447.1 564.5 Q450.3 563.3 452.5 565.3 L452.5 565.3 Q454.8 567.3 455.9 570.5 L462.5 590.3 Q463.6 593.5 465.7 595.3 L465.7 595.3 Q467.9 597.0 471.3 596.8 L481.9 596.0 Q485.3 595.8 487.1 598.7 L494.3 609.9 Q496.1 612.7 494.1 615.5 L492.8 617.3 Q490.8 620.0 490.2 623.4 L482.6 672.6 Q482.1 676.0 479.7 677.4 L479.7 677.4 Q477.2 678.9 473.9 679.6 L467.4 681.1 Q464.0 681.8 463.8 678.4 L462.7 663.0 Q462.5 659.6 460.5 656.8 L460.4 656.6 Q458.4 653.8 455.3 652.5 L454.3 652.0 Q451.2 650.7 447.9 651.5 L412.8 660.2 Q409.5 661.0 409.1 657.7 L408.8 653.9 Q408.4 650.5 410.9 648.1 L428.3 631.8 Q430.8 629.5 432.3 628.0 L432.3 628.0 Q433.9 626.5 433.9 623.1 L433.7 572.9 Q433.7 569.5 433.7 569.5Z M329.2 593.6 Q329.2 593.6 332.0 591.7 L337.6 587.8 Q340.4 585.9 343.6 587.0 L372.7 597.3 Q375.9 598.4 375.9 598.4 L375.9 598.4 Q375.9 598.4 378.9 596.8 L393.7 588.5 Q396.7 586.8 399.3 587.0 L399.3 587.0 Q401.8 587.2 404.4 589.5 L413.3 597.4 Q415.8 599.7 416.0 603.1 L416.2 608.7 Q416.3 612.1 413.2 613.4 L405.4 616.6 Q402.2 617.9 401.7 621.3 L399.9 632.4 Q399.3 635.8 396.3 635.3 L396.3 635.3 Q393.4 634.7 393.4 634.7 L393.4 634.7 Q393.4 634.7 390.0 634.1 L364.2 629.5 Q360.8 628.9 357.5 628.2 L348.4 626.2 Q345.0 625.4 343.7 622.3 L342.7 620.1 Q341.4 616.9 339.8 613.9 L330.8 596.6 Q329.2 593.6 329.2 593.6Z M328.7 648.4 Q328.2 646.5 330.3 643.8 L342.9 628.1 Q345.0 625.4 348.4 626.2 L357.5 628.2 Q360.8 628.9 360.8 628.9 L360.8 628.9 Q360.8 628.9 360.9 632.3 L361.3 670.3 Q361.3 673.7 358.1 674.7 L343.5 679.4 Q340.3 680.5 339.1 677.3 L330.4 653.4 Q329.2 650.2 328.7 648.4Z M360.9 632.3 Q360.8 628.9 364.2 629.5 L390.0 634.1 Q393.4 634.7 395.6 637.3 L396.4 638.1 Q398.6 640.6 395.4 641.7 L381.5 646.7 Q378.3 647.8 378.2 651.2 L377.8 669.4 Q377.8 672.8 374.4 673.0 L364.7 673.5 Q361.3 673.7 361.3 670.3Z M378.2 651.2 Q378.3 647.8 381.5 646.7 L395.4 641.7 Q398.6 640.6 401.0 643.0 L406.0 648.1 Q408.4 650.5 408.6 652.2 L408.6 652.2 Q408.8 653.9 408.7 657.3 L408.0 685.1 Q407.9 688.5 404.6 687.5 L380.9 679.9 Q377.6 678.9 377.7 675.5Z M409.3 664.4 Q409.5 661.0 412.8 660.2 L447.9 651.5 Q451.2 650.7 454.3 652.0 L455.3 652.5 Q458.4 653.8 460.4 656.6 L460.5 656.8 Q462.5 659.6 462.7 663.0 L463.8 678.4 Q464.0 681.8 463.1 685.1 L458.5 700.9 Q457.5 704.2 454.9 703.3 L454.9 703.3 Q452.3 702.5 449.1 701.5 L411.1 689.5 Q407.9 688.5 407.9 688.5 L407.9 688.5 Q407.9 688.5 408.1 685.1Z M549.7 576.8 Q551.8 578.3 554.1 580.8 L557.8 584.8 Q560.1 587.3 562.0 590.2 L614.3 667.3 Q616.2 670.1 616.3 673.5 L616.4 676.3 Q616.6 679.7 613.6 681.5 L611.8 682.6 Q608.9 684.4 605.5 684.5 L570.2 685.5 Q566.8 685.6 563.7 687.0 L513.5 708.1 Q510.4 709.4 510.4 709.4 L510.4 709.4 Q510.4 709.4 509.8 712.7 L507.8 723.2 Q507.2 726.5 503.9 725.8 L465.1 717.1 Q461.8 716.4 460.7 713.2 L458.6 707.4 Q457.5 704.2 458.5 700.9 L463.1 685.1 Q464.0 681.8 467.4 681.1 L473.9 679.6 Q477.2 678.9 479.7 677.4 L479.7 677.4 Q482.1 676.0 482.6 672.6 L490.2 623.4 Q490.8 620.0 492.8 617.3 L494.1 615.5 Q496.1 612.7 496.1 612.7 L496.1 612.7 Q496.1 612.7 499.3 611.6 L527.9 602.0 Q531.1 600.9 533.0 598.1 L545.8 578.2 Q547.7 575.3 549.7 576.8Z M609.7 687.7 Q608.9 684.4 611.8 682.6 L617.3 679.2 Q620.2 677.5 623.6 676.9 L660.3 670.1 Q663.6 669.5 666.8 670.6 L667.1 670.7 Q670.3 671.8 672.0 674.7 L682.5 692.2 Q684.3 695.2 684.0 698.5 L684.0 698.5 Q683.6 701.8 682.5 705.0 L674.7 727.0 Q673.6 730.2 670.6 731.7 L648.3 742.7 Q645.2 744.2 641.9 743.6 L626.9 740.8 Q623.5 740.2 622.0 743.3 L618.4 750.5 Q616.9 753.6 614.8 755.7 L614.8 755.7 Q612.7 757.7 610.9 754.9 L607.5 749.8 Q605.7 746.9 606.7 743.6 L615.0 716.8 Q616.0 713.5 615.2 710.2Z M510.4 709.4 Q510.4 709.4 513.5 708.1 L563.7 687.0 Q566.8 685.6 570.2 685.5 L605.5 684.5 Q608.9 684.4 609.7 687.7 L615.2 710.2 Q616.0 713.5 615.0 716.8 L606.7 743.6 Q605.7 746.9 607.5 749.8 L610.9 754.9 Q612.7 757.7 610.6 760.4 L608.9 762.6 Q606.9 765.3 603.6 766.1 L590.1 769.4 Q586.8 770.3 583.4 770.5 L570.2 771.6 Q566.8 771.9 565.3 775.0 L560.0 785.6 Q558.5 788.6 556.1 786.1 L527.8 755.7 Q525.5 753.2 523.6 750.4 L509.1 729.3 Q507.2 726.5 507.8 723.2 L509.8 712.7 Q510.4 709.4 510.4 709.4Z M446.5 726.8 Q446.4 723.4 449.0 721.5 L449.0 721.5 Q451.6 719.6 454.8 718.6 L458.6 717.4 Q461.8 716.4 465.1 717.1 L503.9 725.8 Q507.2 726.5 509.1 729.3 L523.6 750.4 Q525.5 753.2 526.7 754.5 L526.7 754.5 Q527.9 755.8 524.6 756.6 L478.6 768.1 Q475.3 768.9 473.1 768.2 L473.1 768.2 Q471.0 767.5 468.3 765.3 L449.7 749.9 Q447.1 747.7 447.0 745.5 L447.0 745.5 Q447.0 743.3 446.9 739.9Z" fill="#fff" stroke="#fff" stroke-width="7.4" stroke-linejoin="round"/>
<g stroke-width="0.5" stroke-linejoin="round">
<path d="M51.3 471.1 Q51.4 467.7 53.1 464.8 L53.4 464.4 Q55.1 461.5 58.1 459.8 L88.6 442.3 Q91.5 440.6 94.9 440.8 L107.0 441.2 Q110.4 441.4 113.4 442.9 L114.7 443.6 Q117.7 445.1 118.6 448.4 L124.5 469.1 Q125.4 472.4 125.1 475.8 L125.0 475.8 Q124.7 479.2 122.5 481.8 L103.8 503.8 Q101.6 506.4 98.2 506.2 L55.9 503.5 Q52.5 503.3 51.6 500.6 L51.6 500.6 Q50.6 497.9 50.7 494.5Z" fill="#21B0E6" stroke="#21B0E6"/>
<path d="M118.0 448.0 Q117.0 444.8 118.5 441.7 L120.2 438.2 Q121.7 435.1 124.8 433.9 L147.4 425.0 Q150.5 423.8 153.7 424.7 L153.7 424.7 Q156.8 425.6 158.5 428.5 L166.4 442.2 Q168.1 445.1 170.3 447.7 L173.4 451.3 Q175.6 453.9 179.0 453.3 L186.1 452.0 Q189.5 451.4 189.2 454.8 L187.4 480.5 Q187.1 483.9 184.0 485.1 L164.9 492.2 Q161.7 493.4 158.6 492.0 L129.8 478.2 Q126.7 476.8 125.7 473.5Z" fill="#21B0E6" stroke="#21B0E6"/>
<path d="M104.9 506.9 Q101.6 506.4 103.8 503.8 L124.5 479.4 Q126.7 476.8 129.8 478.2 L158.6 492.0 Q161.7 493.4 161.6 496.8 L161.2 507.4 Q161.1 510.8 159.2 513.0 L159.2 513.0 Q157.2 515.2 153.9 514.6Z" fill="#21B0E6" stroke="#21B0E6"/>
<path d="M35.5 508.3 Q35.6 504.9 37.2 503.6 L37.2 503.6 Q38.8 502.4 42.2 502.6 L79.4 505.0 Q82.8 505.2 84.6 507.2 L84.6 507.2 Q86.3 509.2 85.8 512.6 L84.4 523.7 Q84.0 527.1 80.8 528.3 L44.8 541.5 Q41.6 542.6 39.3 540.1 L39.3 540.1 Q37.1 537.5 36.5 534.2 L35.6 528.8 Q35.1 525.5 35.1 522.1Z" fill="#21B0E6" stroke="#21B0E6"/>
<path d="M85.8 512.6 Q86.3 509.2 86.3 509.2 L86.3 509.2 Q86.3 509.2 89.7 509.5 L150.0 514.4 Q153.4 514.7 151.6 517.6 L125.5 559.8 Q123.7 562.7 123.7 562.7 L123.7 562.7 Q123.7 562.7 121.0 563.9 L121.0 563.9 Q118.3 565.2 116.4 564.2 L116.4 564.2 Q114.6 563.2 111.7 563.2 L111.7 563.2 Q108.8 563.2 107.2 564.5 L107.2 564.5 Q105.5 565.8 105.5 567.8 L105.5 567.8 Q105.5 569.8 107.3 572.7 L109.5 576.0 Q111.3 578.9 110.5 579.7 L110.5 579.7 Q109.7 580.6 106.4 579.6 L96.4 576.7 Q93.1 575.8 89.9 574.5 L79.7 570.4 Q76.6 569.1 73.2 568.5 L68.3 567.5 Q65.0 566.8 61.8 565.6 L45.8 559.8 Q42.6 558.6 41.1 556.5 L41.1 556.5 Q39.6 554.3 40.2 551.0 L41.0 546.0 Q41.6 542.6 41.6 542.6 L41.6 542.6 Q41.6 542.6 44.8 541.5 L80.8 528.3 Q84.0 527.1 84.4 523.7Z" fill="#21B0E6" stroke="#21B0E6"/>
<path d="M151.6 517.6 Q153.4 514.7 156.8 515.1 L192.0 519.8 Q195.4 520.2 196.7 523.4 L196.9 523.8 Q198.2 526.9 197.6 530.3 L196.0 539.1 Q195.4 542.4 193.3 545.1 L185.2 555.3 Q183.0 558.0 180.7 560.4 L170.4 571.1 Q168.0 573.6 164.6 573.9 L155.8 574.6 Q152.5 574.9 149.3 576.2 L147.3 577.1 Q144.2 578.5 141.1 576.9 L128.4 570.2 Q125.4 568.7 124.6 565.7 L124.6 565.7 Q123.7 562.7 125.5 559.8Z" fill="#21B0E6" stroke="#21B0E6"/>
<path d="M161.6 496.8 Q161.7 493.4 164.9 492.2 L184.0 485.1 Q187.1 483.9 189.8 485.9 L200.4 494.1 Q203.1 496.1 203.4 499.5 L204.4 510.6 Q204.7 514.0 202.4 516.5 L200.9 518.2 Q198.6 520.7 195.2 520.2 L165.9 516.3 Q162.5 515.9 161.8 513.3 L161.8 513.3 Q161.1 510.8 161.2 507.4Z" fill="#21B0E6" stroke="#21B0E6"/>
<path d="M189.2 454.8 Q189.5 451.4 192.0 449.1 L192.2 448.9 Q194.8 446.6 198.2 446.6 L198.6 446.6 Q202.0 446.6 203.7 449.6 L213.4 466.4 Q215.1 469.3 214.3 471.8 L214.3 471.8 Q213.6 474.3 212.1 477.4 L204.6 493.1 Q203.1 496.1 200.4 494.1 L189.8 485.9 Q187.1 483.9 187.4 480.5Z" fill="#21B0E6" stroke="#21B0E6"/>
<path d="M214.3 471.8 Q215.1 469.3 218.5 469.5 L232.9 470.0 Q236.3 470.1 236.9 473.5 L237.8 478.2 Q238.4 481.5 241.0 481.8 L241.0 481.8 Q243.5 482.0 246.8 482.5 L270.8 486.2 Q274.2 486.7 274.2 486.7 L274.2 486.7 Q274.2 486.7 271.4 488.6 L229.4 515.9 Q226.5 517.8 223.2 517.2 L208.1 514.6 Q204.7 514.0 204.4 510.6 L203.4 499.5 Q203.1 496.1 204.6 493.1 L212.1 477.4 Q213.6 474.3 214.3 471.8Z" fill="#21B0E6" stroke="#21B0E6"/>
<path d="M243.3 448.4 Q244.2 445.1 246.0 442.2 L248.7 437.9 Q250.5 435.1 253.7 434.0 L267.3 429.8 Q270.6 428.8 273.1 430.0 L273.1 430.0 Q275.6 431.3 277.8 433.9 L282.9 440.1 Q285.1 442.7 285.4 446.1 L287.2 468.6 Q287.5 472.0 285.2 474.5 L276.5 484.2 Q274.2 486.7 270.8 486.2 L246.8 482.5 Q243.5 482.0 241.6 479.2 L238.6 474.8 Q236.6 472.0 237.6 468.7Z" fill="#21B0E6" stroke="#21B0E6"/>
<path d="M328.7 369.8 Q329.9 366.6 331.9 364.7 L331.9 364.7 Q333.8 362.8 336.9 361.3 L365.5 347.8 Q368.6 346.3 370.2 347.3 L370.2 347.3 Q371.8 348.3 372.1 351.7 L374.7 393.2 Q374.9 396.6 374.3 399.3 L374.3 399.3 Q373.8 402.0 370.6 403.3 L329.1 421.0 Q325.9 422.3 324.1 419.4 L317.9 410.0 Q316.0 407.2 316.0 404.8 L316.0 404.8 Q316.0 402.3 317.3 399.2Z" fill="#21B0E6" stroke="#21B0E6"/>
<path d="M307.2 413.0 Q309.2 410.2 311.7 410.9 L311.7 410.9 Q314.2 411.5 316.7 413.8 L323.4 420.0 Q325.9 422.3 329.1 421.2 L370.0 406.9 Q373.2 405.7 376.2 406.0 L376.2 406.0 Q379.2 406.2 381.4 408.9 L383.9 411.9 Q386.0 414.5 386.0 416.3 L386.0 416.3 Q386.0 418.0 384.4 421.0 L378.4 432.1 Q376.7 435.1 375.0 436.8 L375.0 436.8 Q373.2 438.5 369.9 439.4 L346.9 445.5 Q343.6 446.3 341.9 447.8 L341.9 447.8 Q340.2 449.3 340.1 452.7 L339.9 459.6 Q339.8 463.0 339.7 466.1 L339.7 466.1 Q339.6 469.3 336.8 471.3 L327.7 477.8 Q325.0 479.8 323.1 480.6 L323.1 480.6 Q321.1 481.4 317.9 480.5 L290.8 472.9 Q287.5 472.0 287.2 468.6 L285.4 446.1 Q285.1 442.7 287.1 440.0Z" fill="#21B0E6" stroke="#21B0E6"/>
<path d="M288.1 475.1 Q290.7 472.9 294.0 473.8 L317.9 480.5 Q321.1 481.4 324.3 480.1 L336.4 474.8 Q339.5 473.5 339.6 470.1 L340.1 452.7 Q340.2 449.3 341.9 447.8 L341.9 447.8 Q343.6 446.3 346.9 445.5 L369.9 439.4 Q373.2 438.5 375.0 439.7 L375.0 439.7 Q376.9 440.8 378.5 443.3 L378.5 443.3 Q380.2 445.8 381.6 448.9 L403.5 497.1 Q404.9 500.2 405.4 502.2 L405.4 502.2 Q405.9 504.2 405.6 506.4 L405.6 506.4 Q405.2 508.5 403.5 511.5 L395.1 525.8 Q393.4 528.7 390.0 528.2 L381.9 526.9 Q378.5 526.4 375.5 528.0 L357.8 537.6 Q354.8 539.2 352.8 536.4 L343.6 523.2 Q341.7 520.4 338.3 520.3 L286.3 518.5 Q282.9 518.4 282.0 515.1 L275.1 490.0 Q274.2 486.7 276.8 484.5Z" fill="#21B0E6" stroke="#21B0E6"/>
<path d="M198.2 524.1 Q198.6 520.7 200.9 518.2 L202.4 516.5 Q204.7 514.0 208.1 514.6 L223.2 517.2 Q226.5 517.8 229.4 515.9 L233.3 513.4 Q236.2 511.5 239.0 509.6 L271.4 488.6 Q274.2 486.7 275.1 490.0 L275.6 491.8 Q276.5 495.1 277.4 498.4 L282.0 515.1 Q282.9 518.4 279.7 519.6 L273.5 522.1 Q270.4 523.3 269.1 526.5 L268.9 527.1 Q267.6 530.2 267.8 533.6 L267.9 534.8 Q268.0 538.2 265.5 540.5 L253.0 552.1 Q250.5 554.4 250.3 557.8 L248.4 578.9 Q248.2 582.3 247.3 585.6 L247.3 585.6 Q246.5 588.8 243.5 590.3 L223.6 599.7 Q220.5 601.2 220.5 601.2 L220.5 601.2 Q220.5 601.2 222.3 598.3 L224.4 594.7 Q226.2 591.8 226.2 588.4 L227.1 548.8 Q227.2 545.4 225.6 542.9 L225.6 542.9 Q224.0 540.4 220.7 539.7 L210.3 537.6 Q207.0 536.9 204.3 534.9 L200.4 532.0 Q197.7 530.0 198.0 526.6Z" fill="#21B0E6" stroke="#21B0E6"/>
<path d="M206.6 540.3 Q207.0 536.9 210.3 537.6 L220.7 539.7 Q224.0 540.4 225.6 542.9 L225.6 542.9 Q227.2 545.4 227.1 548.8 L226.2 588.4 Q226.2 591.8 224.4 594.7 L222.3 598.3 Q220.5 601.2 219.1 598.1 L205.1 566.6 Q203.7 563.5 204.1 560.1Z" fill="#21B0E6" stroke="#21B0E6"/>
<path d="M146.8 580.7 Q144.2 578.5 147.4 577.4 L152.2 575.7 Q155.4 574.6 158.8 574.3 L164.6 573.9 Q168.0 573.6 170.3 571.1 L183.5 556.9 Q185.8 554.5 187.9 551.8 L193.3 545.1 Q195.4 542.4 196.0 539.1 L196.4 536.7 Q197.0 533.3 200.2 534.5 L203.8 535.8 Q207.0 536.9 206.7 540.3 L204.8 561.8 Q204.5 565.2 205.9 568.3 L219.1 598.1 Q220.5 601.2 217.3 600.2 L181.2 589.0 Q177.9 588.0 175.5 590.4 L159.4 606.1 Q157.0 608.5 154.9 606.0 L154.9 606.0 Q152.8 603.5 152.8 600.1 L152.8 589.2 Q152.8 585.8 150.2 583.6Z" fill="#21B0E6" stroke="#21B0E6"/>
<path d="M269.1 526.5 Q270.4 523.3 273.5 522.1 L279.7 519.6 Q282.9 518.4 286.3 518.5 L338.3 520.3 Q341.7 520.4 343.6 523.2 L352.8 536.4 Q354.8 539.2 352.3 541.5 L340.5 552.6 Q338.0 554.9 335.4 552.7 L328.9 547.1 Q326.4 544.9 323.0 545.5 L299.0 550.2 Q295.6 550.8 292.6 549.4 L271.1 539.6 Q268.0 538.2 267.9 534.8 L267.8 533.6 Q267.6 530.2 268.9 527.1Z" fill="#21B0E6" stroke="#21B0E6"/>
<path d="M265.5 540.5 Q268.0 538.2 271.1 539.6 L292.6 549.4 Q295.6 550.8 296.6 554.1 L298.0 559.1 Q299.0 562.3 297.6 565.4 L289.2 583.6 Q287.8 586.7 284.4 586.9 L255.0 588.4 Q251.6 588.6 250.0 585.6 L249.8 585.3 Q248.2 582.3 248.4 578.9 L250.3 557.8 Q250.5 554.4 253.0 552.1Z" fill="#21B0E6" stroke="#21B0E6"/>
<path d="M296.6 554.1 Q295.6 550.8 299.0 550.2 L323.0 545.5 Q326.4 544.9 328.9 547.1 L335.4 552.7 Q338.0 554.9 338.1 558.3 L338.2 578.6 Q338.2 582.0 335.5 584.1 L318.2 597.5 Q315.6 599.6 312.5 598.2 L290.9 588.1 Q287.8 586.7 289.2 583.6 L297.6 565.4 Q299.0 562.3 298.0 559.1Z" fill="#21B0E6" stroke="#21B0E6"/>
<path d="M338.0 554.9 Q338.0 554.9 340.5 552.6 L352.3 541.5 Q354.8 539.2 357.8 537.6 L375.5 528.0 Q378.5 526.4 381.9 526.9 L390.0 528.2 Q393.4 528.7 392.8 532.1 L390.0 549.2 Q389.4 552.6 391.0 555.4 L391.0 555.4 Q392.6 558.3 393.4 561.6 L394.5 566.1 Q395.4 569.4 396.3 572.6 L397.4 576.8 Q398.4 580.1 397.6 583.4 L397.5 583.5 Q396.7 586.8 393.7 588.5 L378.9 596.8 Q375.9 598.4 375.9 598.4 L375.9 598.4 Q375.9 598.4 372.7 597.3 L343.6 587.0 Q340.4 585.9 339.3 583.9 L339.3 583.9 Q338.2 582.0 338.2 578.6 L338.1 558.3 Q338.0 554.9 338.0 554.9Z" fill="#21B0E6" stroke="#21B0E6"/>
<path d="M220.5 604.6 Q220.5 601.2 223.6 599.7 L243.5 590.3 Q246.5 588.8 249.9 588.6 L284.4 586.9 Q287.8 586.7 290.9 588.1 L312.5 598.2 Q315.6 599.6 318.7 598.2 L326.1 595.0 Q329.2 593.6 330.8 596.6 L332.8 600.5 Q334.4 603.5 331.7 605.6 L305.9 626.1 Q303.2 628.3 299.8 628.6 L246.1 634.4 Q242.7 634.7 239.4 635.7 L225.6 639.5 Q222.4 640.4 221.7 637.1 L221.2 634.5 Q220.5 631.2 220.5 627.8Z" fill="#21B0E6" stroke="#21B0E6"/>
<path d="M155.7 611.6 Q157.0 608.5 159.4 606.1 L175.5 590.4 Q177.9 588.0 179.6 588.6 L179.6 588.6 Q181.3 589.1 184.6 590.1 L217.3 600.2 Q220.5 601.2 220.5 604.6 L220.5 627.8 Q220.5 631.2 219.3 634.3 L217.5 639.0 Q216.3 642.2 212.9 642.4 L195.7 643.3 Q192.3 643.5 189.6 641.4 L157.2 616.8 Q154.5 614.7 155.7 611.6Z" fill="#21B0E6" stroke="#21B0E6"/>
<path d="M152.6 617.5 Q154.5 614.7 157.2 616.8 L189.6 641.4 Q192.3 643.5 189.3 645.1 L140.5 671.5 Q137.5 673.1 135.0 670.9 L127.8 664.4 Q125.2 662.1 125.2 659.4 L125.2 659.4 Q125.2 656.8 127.2 654.0Z" fill="#21B0E6" stroke="#21B0E6"/>
<path d="M76.3 647.0 Q76.3 645.5 78.8 643.2 L105.2 619.0 Q107.7 616.6 108.7 616.1 L108.7 616.1 Q109.7 615.6 113.0 615.0 L119.6 613.8 Q122.9 613.2 125.9 611.6 L129.8 609.7 Q132.8 608.2 135.7 606.4 L139.9 603.7 Q142.8 601.9 146.1 602.0 L146.1 602.0 Q149.4 602.1 151.1 602.8 L151.1 602.8 Q152.8 603.5 153.3 606.9 L154.0 611.4 Q154.5 614.7 152.6 617.5 L127.2 654.0 Q125.2 656.8 125.2 659.4 L125.2 659.4 Q125.2 662.1 127.8 664.4 L135.0 670.9 Q137.5 673.1 137.2 674.9 L137.2 674.9 Q137.0 676.8 136.4 680.1 L136.0 683.1 Q135.4 686.4 132.1 686.1 L103.5 683.8 Q100.1 683.5 97.8 680.9 L88.6 670.6 Q86.3 668.1 85.8 664.8 L85.6 663.9 Q85.1 660.6 83.1 657.8 L78.3 651.3 Q76.3 648.5 76.3 647.0Z" fill="#21B0E6" stroke="#21B0E6"/>
<path d="M137.0 676.5 Q137.5 673.1 140.5 671.5 L189.3 645.1 Q192.3 643.5 195.7 643.3 L212.9 642.4 Q216.3 642.2 216.3 645.6 L215.9 666.1 Q215.8 669.5 212.4 669.0 L211.1 668.9 Q207.7 668.5 204.4 668.9 L204.4 668.9 Q201.0 669.3 198.9 672.0 L176.3 700.7 Q174.2 703.4 171.0 702.4 L137.9 692.6 Q134.6 691.7 135.1 688.3Z" fill="#21B0E6" stroke="#21B0E6"/>
<path d="M177.4 704.7 Q174.2 703.4 176.3 700.7 L198.9 672.0 Q201.0 669.3 204.4 668.9 L204.4 668.9 Q207.7 668.5 209.8 671.1 L213.5 676.0 Q215.6 678.7 215.3 682.1 L212.8 707.0 Q212.4 710.4 209.1 711.2 L201.3 712.9 Q198.0 713.7 194.9 712.3Z" fill="#21B0E6" stroke="#21B0E6"/>
<path d="M216.3 645.6 Q216.3 642.2 219.6 641.2 L235.7 636.7 Q238.9 635.8 240.9 637.6 L240.9 637.6 Q242.8 639.4 242.8 642.8 L243.3 680.3 Q243.4 683.7 241.0 685.5 L241.0 685.5 Q238.7 687.3 235.5 686.1 L218.8 679.9 Q215.6 678.7 215.7 675.3Z" fill="#21B0E6" stroke="#21B0E6"/>
<path d="M242.8 638.1 Q242.7 634.7 246.1 634.4 L299.8 628.6 Q303.2 628.3 305.9 626.1 L331.7 605.6 Q334.4 603.5 336.0 606.2 L336.0 606.2 Q337.6 608.9 339.0 611.9 L342.3 618.8 Q343.7 621.9 341.9 624.7 L330.0 643.6 Q328.2 646.5 329.1 649.8 L329.3 650.5 Q330.1 653.8 331.3 656.9 L339.1 677.3 Q340.3 680.5 340.4 683.9 L341.2 711.0 Q341.3 714.4 338.5 716.2 L333.2 719.8 Q330.4 721.6 327.9 719.3 L302.7 696.3 Q300.2 694.0 296.9 693.4 L246.7 684.3 Q243.4 683.7 243.3 680.3Z" fill="#21B0E6" stroke="#21B0E6"/>
<path d="M102.4 685.9 Q100.1 683.5 103.4 684.3 L131.3 690.9 Q134.6 691.7 137.9 692.6 L171.0 702.4 Q174.2 703.4 177.4 704.7 L194.9 712.3 Q198.0 713.7 201.3 712.9 L209.1 711.2 Q212.4 710.4 211.4 713.6 L210.2 717.3 Q209.1 720.6 208.1 723.8 L206.0 730.2 Q204.9 733.5 201.9 735.1 L165.8 754.6 Q162.8 756.2 159.4 755.9 L157.4 755.6 Q154.0 755.3 152.1 752.5 L145.8 743.1 Q143.9 740.2 140.8 739.6 L140.8 739.6 Q137.7 739.0 134.8 740.9 L117.9 752.2 Q115.1 754.1 112.0 752.5 L110.6 751.8 Q107.5 750.3 106.5 747.1 L103.6 738.5 Q102.5 735.2 103.1 732.7 L103.1 732.7 Q103.8 730.2 106.3 728.0 L121.3 714.9 Q123.8 712.6 123.8 710.1 L123.8 710.1 Q123.8 707.6 121.5 705.2Z" fill="#21B0E6" stroke="#21B0E6"/>
<path d="M163.7 759.4 Q162.8 756.2 165.8 754.6 L201.9 735.1 Q204.9 733.5 205.0 736.9 L205.4 758.4 Q205.4 761.8 204.5 765.1 L198.8 784.7 Q197.9 787.9 195.6 787.6 L195.6 787.6 Q193.4 787.2 190.6 785.3 L184.4 781.1 Q181.6 779.2 178.9 777.1 L169.0 769.9 Q166.3 767.9 165.3 764.6Z" fill="#21B0E6" stroke="#21B0E6"/>
<path d="M211.4 713.6 Q212.4 710.4 212.4 710.4 L212.4 710.4 Q212.4 710.4 215.3 712.2 L277.3 749.9 Q280.2 751.7 280.5 754.2 L280.5 754.2 Q280.7 756.6 277.9 758.0 L277.9 758.0 Q275.0 759.4 272.0 760.8 L238.6 777.0 Q235.5 778.4 233.4 778.4 L233.4 778.4 Q231.2 778.3 228.3 776.4 L208.3 763.7 Q205.4 761.8 205.4 758.4 L205.0 736.9 Q204.9 733.5 206.0 730.2Z" fill="#21B0E6" stroke="#21B0E6"/>
<path d="M200.7 789.8 Q197.9 787.9 198.8 784.7 L204.5 765.1 Q205.4 761.8 208.3 763.7 L228.3 776.4 Q231.2 778.3 231.6 781.7 L232.3 787.1 Q232.8 790.5 235.2 792.9 L246.0 803.2 Q248.5 805.6 251.1 807.7 L252.5 808.8 Q255.1 811.0 255.3 814.1 L255.3 814.1 Q255.4 817.3 254.8 819.8 L254.8 819.8 Q254.1 822.3 251.6 823.5 L251.6 823.5 Q249.1 824.6 245.8 823.6 L244.6 823.3 Q241.3 822.3 238.4 820.6 L236.0 819.3 Q233.0 817.6 230.9 815.0 L229.7 813.6 Q227.5 811.0 225.7 808.2 L225.3 807.6 Q223.5 804.8 220.7 802.9Z" fill="#21B0E6" stroke="#21B0E6"/>
<path d="M215.3 682.1 Q215.6 678.7 218.8 679.9 L235.5 686.1 Q238.7 687.3 241.0 685.5 L241.0 685.5 Q243.4 683.7 246.7 684.3 L294.1 692.9 Q297.4 693.5 300.1 695.0 L300.1 695.0 Q302.8 696.4 305.1 699.0 L324.4 720.2 Q326.6 722.8 329.9 721.8 L340.0 718.8 Q343.3 717.8 344.4 719.8 L344.4 719.8 Q345.5 721.8 347.2 724.8 L357.7 743.4 Q359.3 746.3 361.2 749.2 L365.2 755.2 Q367.0 758.0 367.3 761.4 L369.1 783.4 Q369.3 786.8 368.1 789.3 L368.1 789.3 Q366.8 791.8 364.3 794.1 L355.5 802.1 Q353.0 804.3 349.6 804.5 L333.8 805.4 Q330.4 805.6 327.9 803.7 L327.9 803.7 Q325.4 801.8 323.3 799.2 L318.7 793.2 Q316.6 790.5 313.2 790.2 L296.1 788.4 Q292.8 788.0 290.9 789.9 L290.9 789.9 Q289.0 791.8 286.0 793.5 L258.1 809.3 Q255.1 811.0 252.5 808.8 L251.1 807.7 Q248.5 805.6 246.0 803.2 L235.2 792.9 Q232.8 790.5 232.4 788.0 L232.4 788.0 Q232.1 785.4 233.6 782.4 L234.0 781.5 Q235.5 778.4 238.6 777.0 L277.7 758.1 Q280.7 756.6 280.5 754.2 L280.5 754.2 Q280.2 751.7 277.3 749.9 L215.3 712.2 Q212.4 710.4 212.8 707.0Z" fill="#21B0E6" stroke="#21B0E6"/>
<path d="M340.4 683.9 Q340.3 680.5 343.5 679.4 L358.1 674.7 Q361.3 673.7 364.5 674.7 L404.6 687.5 Q407.9 688.5 411.1 689.5 L454.3 703.1 Q457.5 704.2 458.6 707.4 L459.5 709.8 Q460.6 713.1 457.9 715.1 L449.2 721.4 Q446.4 723.4 446.5 726.8 L447.0 744.3 Q447.1 747.7 444.0 749.2 L422.4 759.9 Q419.3 761.4 415.9 761.1 L370.0 757.7 Q366.6 757.4 364.9 754.5 L343.0 717.3 Q341.3 714.4 341.2 711.0Z" fill="#21B0E6" stroke="#21B0E6"/>
<path d="M421.1 764.3 Q419.3 761.4 422.4 759.9 L444.0 749.2 Q447.1 747.7 447.1 747.7 L447.1 747.7 Q447.1 747.7 449.7 749.9 L468.3 765.3 Q471.0 767.5 472.3 770.7 L473.0 772.4 Q474.3 775.6 474.0 779.0 L473.9 780.9 Q473.6 784.3 470.2 784.8 L442.7 789.2 Q439.3 789.7 437.4 788.9 L437.4 788.9 Q435.6 788.0 433.8 785.1Z" fill="#21B0E6" stroke="#21B0E6"/>
<path d="M409.3 510.9 Q412.6 510.0 415.9 509.1 L438.3 502.2 Q441.5 501.3 444.2 502.1 L444.2 502.1 Q446.9 503.0 447.4 506.4 L453.4 548.7 Q453.9 552.0 452.5 555.1 L452.5 555.2 Q451.0 558.2 448.2 560.1 L436.5 567.6 Q433.7 569.5 430.3 569.6 L403.1 570.8 Q399.7 570.9 398.0 567.9 L391.1 555.6 Q389.4 552.6 390.0 549.2 L391.4 540.7 Q391.9 537.3 393.3 534.2 L401.5 515.6 Q402.9 512.5 406.2 511.7Z" fill="#F1655E" stroke="#F1655E"/>
<path d="M447.4 506.4 Q446.9 503.0 448.6 501.9 L448.6 501.9 Q450.3 500.8 453.6 501.4 L509.7 511.9 Q513.0 512.6 514.9 514.4 L514.9 514.4 Q516.8 516.3 516.0 519.6 L515.1 523.1 Q514.3 526.4 515.9 529.4 L530.3 556.0 Q531.9 559.0 530.9 560.9 L530.9 560.9 Q530.0 562.8 526.6 563.2 L495.6 567.3 Q492.2 567.8 489.9 565.3 L479.7 554.2 Q477.4 551.7 474.0 551.3 L463.7 550.0 Q460.3 549.6 457.2 550.8 L457.1 550.8 Q453.9 552.0 453.4 548.7Z" fill="#F1655E" stroke="#F1655E"/>
<path d="M454.1 555.4 Q453.9 552.0 457.1 550.8 L457.2 550.8 Q460.3 549.6 463.7 550.0 L474.0 551.3 Q477.4 551.7 479.7 554.2 L489.9 565.3 Q492.2 567.8 491.4 571.1 L486.1 592.5 Q485.3 595.8 481.9 596.0 L471.3 596.8 Q467.9 597.0 465.7 595.3 L465.7 595.3 Q463.6 593.5 462.5 590.3 L455.9 570.5 Q454.8 567.3 454.6 563.9Z" fill="#F1655E" stroke="#F1655E"/>
<path d="M491.4 571.1 Q492.2 567.8 495.6 567.3 L526.6 563.2 Q530.0 562.8 533.1 564.1 L537.5 566.0 Q540.7 567.3 542.9 569.8 L545.5 572.8 Q547.7 575.3 545.8 578.2 L533.0 598.1 Q531.1 600.9 527.9 602.0 L499.3 611.6 Q496.1 612.7 494.3 609.9 L487.1 598.7 Q485.3 595.8 486.1 592.5Z" fill="#F1655E" stroke="#F1655E"/>
<path d="M399.1 574.3 Q399.7 570.9 399.7 570.9 L399.7 570.9 Q399.7 570.9 403.1 570.8 L430.3 569.6 Q433.7 569.5 433.7 569.5 L433.7 569.5 Q433.7 569.5 433.7 572.9 L433.9 623.1 Q433.9 626.5 431.4 628.9 L410.9 648.1 Q408.4 650.5 406.6 647.6 L401.1 638.7 Q399.3 635.8 399.9 632.4 L401.7 621.3 Q402.2 617.9 405.4 616.6 L413.2 613.4 Q416.3 612.1 416.2 608.7 L416.0 603.1 Q415.8 599.7 413.3 597.4 L400.1 585.7 Q397.5 583.4 398.1 580.1Z" fill="#F1655E" stroke="#F1655E"/>
<path d="M433.7 569.5 Q433.7 569.5 436.9 568.3 L447.1 564.5 Q450.3 563.3 452.5 565.3 L452.5 565.3 Q454.8 567.3 455.9 570.5 L462.5 590.3 Q463.6 593.5 465.7 595.3 L465.7 595.3 Q467.9 597.0 471.3 596.8 L481.9 596.0 Q485.3 595.8 487.1 598.7 L494.3 609.9 Q496.1 612.7 494.1 615.5 L492.8 617.3 Q490.8 620.0 490.2 623.4 L482.6 672.6 Q482.1 676.0 479.7 677.4 L479.7 677.4 Q477.2 678.9 473.9 679.6 L467.4 681.1 Q464.0 681.8 463.8 678.4 L462.7 663.0 Q462.5 659.6 460.5 656.8 L460.4 656.6 Q458.4 653.8 455.3 652.5 L454.3 652.0 Q451.2 650.7 447.9 651.5 L412.8 660.2 Q409.5 661.0 409.1 657.7 L408.8 653.9 Q408.4 650.5 410.9 648.1 L428.3 631.8 Q430.8 629.5 432.3 628.0 L432.3 628.0 Q433.9 626.5 433.9 623.1 L433.7 572.9 Q433.7 569.5 433.7 569.5Z" fill="#F1655E" stroke="#F1655E"/>
<path d="M329.2 593.6 Q329.2 593.6 332.0 591.7 L337.6 587.8 Q340.4 585.9 343.6 587.0 L372.7 597.3 Q375.9 598.4 375.9 598.4 L375.9 598.4 Q375.9 598.4 378.9 596.8 L393.7 588.5 Q396.7 586.8 399.3 587.0 L399.3 587.0 Q401.8 587.2 404.4 589.5 L413.3 597.4 Q415.8 599.7 416.0 603.1 L416.2 608.7 Q416.3 612.1 413.2 613.4 L405.4 616.6 Q402.2 617.9 401.7 621.3 L399.9 632.4 Q399.3 635.8 396.3 635.3 L396.3 635.3 Q393.4 634.7 393.4 634.7 L393.4 634.7 Q393.4 634.7 390.0 634.1 L364.2 629.5 Q360.8 628.9 357.5 628.2 L348.4 626.2 Q345.0 625.4 343.7 622.3 L342.7 620.1 Q341.4 616.9 339.8 613.9 L330.8 596.6 Q329.2 593.6 329.2 593.6Z" fill="#F1655E" stroke="#F1655E"/>
<path d="M328.7 648.4 Q328.2 646.5 330.3 643.8 L342.9 628.1 Q345.0 625.4 348.4 626.2 L357.5 628.2 Q360.8 628.9 360.8 628.9 L360.8 628.9 Q360.8 628.9 360.9 632.3 L361.3 670.3 Q361.3 673.7 358.1 674.7 L343.5 679.4 Q340.3 680.5 339.1 677.3 L330.4 653.4 Q329.2 650.2 328.7 648.4Z" fill="#F1655E" stroke="#F1655E"/>
<path d="M360.9 632.3 Q360.8 628.9 364.2 629.5 L390.0 634.1 Q393.4 634.7 395.6 637.3 L396.4 638.1 Q398.6 640.6 395.4 641.7 L381.5 646.7 Q378.3 647.8 378.2 651.2 L377.8 669.4 Q377.8 672.8 374.4 673.0 L364.7 673.5 Q361.3 673.7 361.3 670.3Z" fill="#F1655E" stroke="#F1655E"/>
<path d="M378.2 651.2 Q378.3 647.8 381.5 646.7 L395.4 641.7 Q398.6 640.6 401.0 643.0 L406.0 648.1 Q408.4 650.5 408.6 652.2 L408.6 652.2 Q408.8 653.9 408.7 657.3 L408.0 685.1 Q407.9 688.5 404.6 687.5 L380.9 679.9 Q377.6 678.9 377.7 675.5Z" fill="#F1655E" stroke="#F1655E"/>
<path d="M409.3 664.4 Q409.5 661.0 412.8 660.2 L447.9 651.5 Q451.2 650.7 454.3 652.0 L455.3 652.5 Q458.4 653.8 460.4 656.6 L460.5 656.8 Q462.5 659.6 462.7 663.0 L463.8 678.4 Q464.0 681.8 463.1 685.1 L458.5 700.9 Q457.5 704.2 454.9 703.3 L454.9 703.3 Q452.3 702.5 449.1 701.5 L411.1 689.5 Q407.9 688.5 407.9 688.5 L407.9 688.5 Q407.9 688.5 408.1 685.1Z" fill="#F1655E" stroke="#F1655E"/>
<path d="M549.7 576.8 Q551.8 578.3 554.1 580.8 L557.8 584.8 Q560.1 587.3 562.0 590.2 L614.3 667.3 Q616.2 670.1 616.3 673.5 L616.4 676.3 Q616.6 679.7 613.6 681.5 L611.8 682.6 Q608.9 684.4 605.5 684.5 L570.2 685.5 Q566.8 685.6 563.7 687.0 L513.5 708.1 Q510.4 709.4 510.4 709.4 L510.4 709.4 Q510.4 709.4 509.8 712.7 L507.8 723.2 Q507.2 726.5 503.9 725.8 L465.1 717.1 Q461.8 716.4 460.7 713.2 L458.6 707.4 Q457.5 704.2 458.5 700.9 L463.1 685.1 Q464.0 681.8 467.4 681.1 L473.9 679.6 Q477.2 678.9 479.7 677.4 L479.7 677.4 Q482.1 676.0 482.6 672.6 L490.2 623.4 Q490.8 620.0 492.8 617.3 L494.1 615.5 Q496.1 612.7 496.1 612.7 L496.1 612.7 Q496.1 612.7 499.3 611.6 L527.9 602.0 Q531.1 600.9 533.0 598.1 L545.8 578.2 Q547.7 575.3 549.7 576.8Z" fill="#F1655E" stroke="#F1655E"/>
<path d="M609.7 687.7 Q608.9 684.4 611.8 682.6 L617.3 679.2 Q620.2 677.5 623.6 676.9 L660.3 670.1 Q663.6 669.5 666.8 670.6 L667.1 670.7 Q670.3 671.8 672.0 674.7 L682.5 692.2 Q684.3 695.2 684.0 698.5 L684.0 698.5 Q683.6 701.8 682.5 705.0 L674.7 727.0 Q673.6 730.2 670.6 731.7 L648.3 742.7 Q645.2 744.2 641.9 743.6 L626.9 740.8 Q623.5 740.2 622.0 743.3 L618.4 750.5 Q616.9 753.6 614.8 755.7 L614.8 755.7 Q612.7 757.7 610.9 754.9 L607.5 749.8 Q605.7 746.9 606.7 743.6 L615.0 716.8 Q616.0 713.5 615.2 710.2Z" fill="#F1655E" stroke="#F1655E"/>
<path d="M510.4 709.4 Q510.4 709.4 513.5 708.1 L563.7 687.0 Q566.8 685.6 570.2 685.5 L605.5 684.5 Q608.9 684.4 609.7 687.7 L615.2 710.2 Q616.0 713.5 615.0 716.8 L606.7 743.6 Q605.7 746.9 607.5 749.8 L610.9 754.9 Q612.7 757.7 610.6 760.4 L608.9 762.6 Q606.9 765.3 603.6 766.1 L590.1 769.4 Q586.8 770.3 583.4 770.5 L570.2 771.6 Q566.8 771.9 565.3 775.0 L560.0 785.6 Q558.5 788.6 556.1 786.1 L527.8 755.7 Q525.5 753.2 523.6 750.4 L509.1 729.3 Q507.2 726.5 507.8 723.2 L509.8 712.7 Q510.4 709.4 510.4 709.4Z" fill="#F1655E" stroke="#F1655E"/>
<path d="M446.5 726.8 Q446.4 723.4 449.0 721.5 L449.0 721.5 Q451.6 719.6 454.8 718.6 L458.6 717.4 Q461.8 716.4 465.1 717.1 L503.9 725.8 Q507.2 726.5 509.1 729.3 L523.6 750.4 Q525.5 753.2 526.7 754.5 L526.7 754.5 Q527.9 755.8 524.6 756.6 L478.6 768.1 Q475.3 768.9 473.1 768.2 L473.1 768.2 Q471.0 767.5 468.3 765.3 L449.7 749.9 Q447.1 747.7 447.0 745.5 L447.0 745.5 Q447.0 743.3 446.9 739.9Z" fill="#F1655E" stroke="#F1655E"/>
</g>
<path d="M116.8 444.7 L114.7 443.6 M114.7 443.6 Q117.7 445.1 118.6 448.4 M118.6 448.4 L124.5 469.1 M124.5 469.1 Q125.4 472.4 125.1 475.8 M125.1 475.8 L125.0 475.8 M125.0 475.8 Q124.7 479.2 122.5 481.8 M122.5 481.8 L101.6 506.4 M83.2 505.2 L55.9 503.5 M55.9 503.5 Q52.5 503.3 51.6 500.6 M51.6 500.6 L52.3 502.6 M189.5 451.4 L187.4 480.5 M187.4 480.5 Q187.1 483.9 184.0 485.1 M184.0 485.1 L164.9 492.2 M164.9 492.2 Q161.7 493.4 158.6 492.0 M158.6 492.0 L129.8 478.2 M129.8 478.2 Q126.7 476.8 125.7 473.5 M125.7 473.5 L117.0 444.8 M101.6 506.4 L124.5 479.4 M124.5 479.4 Q126.7 476.8 129.8 478.2 M129.8 478.2 L158.6 492.0 M158.6 492.0 Q161.7 493.4 161.6 496.8 M161.6 496.8 L161.2 507.4 M161.2 507.4 Q161.1 510.8 159.2 513.0 M159.2 513.0 L160.1 511.9 M158.2 514.1 L159.2 513.0 M159.2 513.0 Q157.2 515.2 153.9 514.6 M153.9 514.6 L129.4 510.8 M49.8 503.1 L79.4 505.0 M79.4 505.0 Q82.8 505.2 84.6 507.2 M84.6 507.2 L84.1 506.7 M86.3 509.2 L84.4 523.7 M84.4 523.7 Q84.0 527.1 80.8 528.3 M80.8 528.3 L41.6 542.6 M128.2 512.6 L150.0 514.4 M150.0 514.4 Q153.4 514.7 151.6 517.6 M151.6 517.6 L125.5 559.8 M125.5 559.8 Q123.7 562.7 123.7 562.7 M123.7 562.7 L123.7 562.7 M41.6 542.6 L80.8 528.3 M80.8 528.3 Q84.0 527.1 84.4 523.7 M84.4 523.7 L86.3 509.2 M156.8 515.1 L158.7 515.4 M163.9 516.1 L192.0 519.8 M192.0 519.8 Q195.4 520.2 196.7 523.4 M196.7 523.4 L195.7 521.1 M196.4 522.7 L196.9 523.8 M196.9 523.8 Q198.2 526.9 197.6 530.3 M197.6 530.3 L197.5 530.8 M197.2 532.7 L196.0 539.1 M196.0 539.1 Q195.4 542.4 193.3 545.1 M193.3 545.1 L185.2 555.3 M185.2 555.3 Q183.0 558.0 180.7 560.4 M180.7 560.4 L170.4 571.1 M170.4 571.1 Q168.0 573.6 164.6 573.9 M164.6 573.9 L155.8 574.6 M155.8 574.6 Q152.5 574.9 149.3 576.2 M149.3 576.2 L145.2 578.0 M123.7 562.7 L151.6 517.6 M151.6 517.6 Q153.4 514.7 156.8 515.1 M164.9 492.2 L184.0 485.1 M184.0 485.1 Q187.1 483.9 189.8 485.9 M189.8 485.9 L200.4 494.1 M200.4 494.1 Q203.1 496.1 203.4 499.5 M203.4 499.5 L204.4 510.6 M204.4 510.6 Q204.7 514.0 202.4 516.5 M202.4 516.5 L200.9 518.2 M200.9 518.2 Q198.6 520.7 195.2 520.2 M195.2 520.2 L165.9 516.3 M165.9 516.3 Q162.5 515.9 161.8 513.3 M161.8 513.3 L162.3 515.2 M161.5 512.0 L161.8 513.3 M161.8 513.3 Q161.1 510.8 161.2 507.4 M161.2 507.4 L161.6 496.8 M161.6 496.8 Q161.7 493.4 164.9 492.2 M215.1 469.3 L214.3 471.8 M214.3 471.8 Q213.6 474.3 212.1 477.4 M212.1 477.4 L204.6 493.1 M204.6 493.1 Q203.1 496.1 200.4 494.1 M200.4 494.1 L189.8 485.9 M189.8 485.9 Q187.1 483.9 187.4 480.5 M187.4 480.5 L189.5 451.4 M236.3 470.1 L237.6 477.2 M241.6 481.8 L241.0 481.8 M241.0 481.8 Q243.5 482.0 246.8 482.5 M246.8 482.5 L270.8 486.2 M270.8 486.2 Q274.2 486.7 274.2 486.7 M274.2 486.7 L274.2 486.7 M274.2 486.7 Q274.2 486.7 271.4 488.6 M271.4 488.6 L229.4 515.9 M229.4 515.9 Q226.5 517.8 223.2 517.2 M223.2 517.2 L208.1 514.6 M208.1 514.6 Q204.7 514.0 204.4 510.6 M204.4 510.6 L203.4 499.5 M203.4 499.5 Q203.1 496.1 204.6 493.1 M204.6 493.1 L212.1 477.4 M212.1 477.4 Q213.6 474.3 214.3 471.8 M214.3 471.8 L215.1 469.3 M285.1 442.7 L287.5 472.0 M284.2 475.7 L276.5 484.2 M276.5 484.2 Q274.2 486.7 270.8 486.2 M270.8 486.2 L246.8 482.5 M246.8 482.5 Q243.5 482.0 241.6 479.2 M241.6 479.2 L242.6 480.7 M239.2 475.7 L236.6 472.0 M355.8 409.6 L329.1 421.0 M329.1 421.0 Q325.9 422.3 324.1 419.4 M324.1 419.4 L321.0 414.7 M320.1 416.9 L323.4 420.0 M323.4 420.0 Q325.9 422.3 329.1 421.2 M329.1 421.2 L355.5 411.9 M373.6 438.1 L375.0 436.8 M375.0 436.8 Q373.2 438.5 369.9 439.4 M369.9 439.4 L346.9 445.5 M346.9 445.5 Q343.6 446.3 341.9 447.8 M341.9 447.8 L341.9 447.8 M341.9 447.8 Q340.2 449.3 340.1 452.7 M340.1 452.7 L339.9 459.6 M339.9 459.6 Q339.8 463.0 339.7 466.1 M339.7 466.1 L339.7 466.1 M339.7 466.1 Q339.6 469.3 336.8 471.3 M336.8 471.3 L337.8 470.6 M334.1 473.2 L327.7 477.8 M327.7 477.8 Q325.0 479.8 323.1 480.6 M323.1 480.6 L323.1 480.6 M323.1 480.6 Q321.1 481.4 317.9 480.5 M317.9 480.5 L290.8 472.9 M290.8 472.9 Q287.5 472.0 287.2 468.6 M287.2 468.6 L285.1 442.7 M294.0 473.8 L317.9 480.5 M317.9 480.5 Q321.1 481.4 324.3 480.1 M324.3 480.1 L334.9 475.5 M339.6 470.5 L340.1 452.7 M340.1 452.7 Q340.2 449.3 341.9 447.8 M341.9 447.8 L341.9 447.8 M341.9 447.8 Q343.6 446.3 346.9 445.5 M346.9 445.5 L369.9 439.4 M369.9 439.4 Q373.2 438.5 375.0 439.7 M375.0 439.7 L373.7 438.8 M403.7 511.1 L395.1 525.8 M395.1 525.8 Q393.4 528.7 390.0 528.2 M390.0 528.2 L381.9 526.9 M381.9 526.9 Q378.5 526.4 375.5 528.0 M375.5 528.0 L357.8 537.6 M357.8 537.6 Q354.8 539.2 352.8 536.4 M352.8 536.4 L343.6 523.2 M343.6 523.2 Q341.7 520.4 338.3 520.3 M338.3 520.3 L286.3 518.5 M286.3 518.5 Q282.9 518.4 282.0 515.1 M282.0 515.1 L275.1 490.0 M275.1 490.0 Q274.2 486.7 276.8 484.5 M276.8 484.5 L286.6 476.3 M288.6 474.6 L288.1 475.1 M288.1 475.1 Q290.7 472.9 294.0 473.8 M198.6 520.7 L202.4 516.5 M202.4 516.5 Q204.7 514.0 208.1 514.6 M208.1 514.6 L223.2 517.2 M223.2 517.2 Q226.5 517.8 229.4 515.9 M229.4 515.9 L233.3 513.4 M233.3 513.4 Q236.2 511.5 239.0 509.6 M239.0 509.6 L271.4 488.6 M271.4 488.6 Q274.2 486.7 275.1 490.0 M275.1 490.0 L275.6 491.8 M275.6 491.8 Q276.5 495.1 277.4 498.4 M277.4 498.4 L282.0 515.1 M282.0 515.1 Q282.9 518.4 279.7 519.6 M279.7 519.6 L273.5 522.1 M273.5 522.1 Q270.4 523.3 269.1 526.5 M269.1 526.5 L268.9 527.1 M268.9 527.1 Q267.6 530.2 267.8 533.6 M267.8 533.6 L267.9 534.8 M267.9 534.8 Q268.0 538.2 265.5 540.5 M265.5 540.5 L253.0 552.1 M253.0 552.1 Q250.5 554.4 250.3 557.8 M250.3 557.8 L248.4 578.9 M248.4 578.9 Q248.2 582.3 247.3 585.6 M247.3 585.6 L247.5 584.7 M246.7 588.0 L247.3 585.6 M247.3 585.6 Q246.5 588.8 243.5 590.3 M243.5 590.3 L223.6 599.7 M223.6 599.7 Q220.5 601.2 220.5 601.2 M220.5 601.2 L220.5 601.2 M220.5 601.2 Q220.5 601.2 222.3 598.3 M222.3 598.3 L224.4 594.7 M224.4 594.7 Q226.2 591.8 226.2 588.4 M226.2 588.4 L227.1 548.8 M227.1 548.8 Q227.2 545.4 225.6 542.9 M225.6 542.9 L225.6 542.9 M225.6 542.9 Q224.0 540.4 220.7 539.7 M220.7 539.7 L210.3 537.6 M210.3 537.6 Q207.0 536.9 204.3 534.9 M204.3 534.9 L201.2 532.6 M198.8 530.8 L200.4 532.0 M200.4 532.0 Q197.7 530.0 198.0 526.6 M198.0 526.6 L198.4 521.8 M210.3 537.6 L220.7 539.7 M220.7 539.7 Q224.0 540.4 225.6 542.9 M225.6 542.9 L225.6 542.9 M225.6 542.9 Q227.2 545.4 227.1 548.8 M227.1 548.8 L226.2 588.4 M226.2 588.4 Q226.2 591.8 224.4 594.7 M224.4 594.7 L222.3 598.3 M222.3 598.3 Q220.5 601.2 219.1 598.1 M219.1 598.1 L205.1 566.6 M205.1 566.6 Q203.7 563.5 204.1 560.1 M204.1 560.1 L206.6 540.3 M206.6 540.3 Q207.0 536.9 210.3 537.6 M144.2 578.5 L152.2 575.7 M152.2 575.7 Q155.4 574.6 158.8 574.3 M158.8 574.3 L164.6 573.9 M164.6 573.9 Q168.0 573.6 170.3 571.1 M170.3 571.1 L183.5 556.9 M183.5 556.9 Q185.8 554.5 187.9 551.8 M187.9 551.8 L193.3 545.1 M193.3 545.1 Q195.4 542.4 196.0 539.1 M196.0 539.1 L197.0 533.3 M200.8 534.7 L203.8 535.8 M203.8 535.8 Q207.0 536.9 206.7 540.3 M206.7 540.3 L204.8 561.8 M204.8 561.8 Q204.5 565.2 205.9 568.3 M205.9 568.3 L219.1 598.1 M219.1 598.1 Q220.5 601.2 217.3 600.2 M217.3 600.2 L181.2 589.0 M181.2 589.0 Q177.9 588.0 175.5 590.4 M175.5 590.4 L157.0 608.5 M154.9 606.0 L152.8 603.5 M273.5 522.1 L279.7 519.6 M279.7 519.6 Q282.9 518.4 286.3 518.5 M286.3 518.5 L338.3 520.3 M338.3 520.3 Q341.7 520.4 343.6 523.2 M343.6 523.2 L352.8 536.4 M352.8 536.4 Q354.8 539.2 352.3 541.5 M352.3 541.5 L340.5 552.6 M340.5 552.6 Q338.0 554.9 335.4 552.7 M335.4 552.7 L328.9 547.1 M328.9 547.1 Q326.4 544.9 323.0 545.5 M323.0 545.5 L299.0 550.2 M299.0 550.2 Q295.6 550.8 292.6 549.4 M292.6 549.4 L271.1 539.6 M271.1 539.6 Q268.0 538.2 267.9 534.8 M267.9 534.8 L267.8 533.6 M267.8 533.6 Q267.6 530.2 268.9 527.1 M268.9 527.1 L269.1 526.5 M269.1 526.5 Q270.4 523.3 273.5 522.1 M271.1 539.6 L292.6 549.4 M292.6 549.4 Q295.6 550.8 296.6 554.1 M296.6 554.1 L298.0 559.1 M298.0 559.1 Q299.0 562.3 297.6 565.4 M297.6 565.4 L289.2 583.6 M289.2 583.6 Q287.8 586.7 284.4 586.9 M284.4 586.9 L255.0 588.4 M255.0 588.4 Q251.6 588.6 250.0 585.6 M250.0 585.6 L251.2 587.8 M249.5 584.6 L249.8 585.3 M249.8 585.3 Q248.2 582.3 248.4 578.9 M248.4 578.9 L250.3 557.8 M250.3 557.8 Q250.5 554.4 253.0 552.1 M253.0 552.1 L265.5 540.5 M265.5 540.5 Q268.0 538.2 271.1 539.6 M299.0 550.2 L323.0 545.5 M323.0 545.5 Q326.4 544.9 328.9 547.1 M328.9 547.1 L335.4 552.7 M335.4 552.7 Q338.0 554.9 338.1 558.3 M338.1 558.3 L338.2 582.0 M321.2 595.2 L318.2 597.5 M318.2 597.5 Q315.6 599.6 312.5 598.2 M312.5 598.2 L290.9 588.1 M290.9 588.1 Q287.8 586.7 289.2 583.6 M289.2 583.6 L297.6 565.4 M297.6 565.4 Q299.0 562.3 298.0 559.1 M298.0 559.1 L296.6 554.1 M296.6 554.1 Q295.6 550.8 299.0 550.2 M338.0 554.9 L352.3 541.5 M352.3 541.5 Q354.8 539.2 357.8 537.6 M357.8 537.6 L375.5 528.0 M375.5 528.0 Q378.5 526.4 381.9 526.9 M381.9 526.9 L390.0 528.2 M390.0 528.2 Q393.4 528.7 392.8 532.1 M392.8 532.1 L390.0 549.2 M390.0 549.2 Q389.4 552.6 391.0 555.4 M391.0 555.4 L391.0 555.4 M391.0 555.4 Q392.6 558.3 393.4 561.6 M393.4 561.6 L394.7 566.6 M396.9 574.7 L397.4 576.8 M397.4 576.8 Q398.4 580.1 397.6 583.4 M397.6 583.4 L397.3 584.3 M396.7 586.8 L378.9 596.8 M378.9 596.8 Q375.9 598.4 375.9 598.4 M375.9 598.4 L375.9 598.4 M375.9 598.4 Q375.9 598.4 372.7 597.3 M372.7 597.3 L340.4 585.9 M338.5 582.5 L339.3 583.9 M339.3 583.9 Q338.2 582.0 338.2 578.6 M338.2 578.6 L338.0 554.9 M223.6 599.7 L246.5 588.8 M251.7 588.6 L284.4 586.9 M284.4 586.9 Q287.8 586.7 290.9 588.1 M290.9 588.1 L312.5 598.2 M312.5 598.2 Q315.6 599.6 318.7 598.2 M318.7 598.2 L324.1 595.9 M329.2 593.6 L332.8 600.5 M332.8 600.5 Q334.4 603.5 331.7 605.6 M331.7 605.6 L305.9 626.1 M305.9 626.1 Q303.2 628.3 299.8 628.6 M299.8 628.6 L242.7 634.7 M240.2 635.4 L222.4 640.4 M221.2 634.6 L221.2 634.5 M221.2 634.5 Q220.5 631.2 220.5 627.8 M220.5 627.8 L220.5 604.6 M220.5 604.6 Q220.5 601.2 223.6 599.7 M157.0 608.5 L175.5 590.4 M175.5 590.4 Q177.9 588.0 179.6 588.6 M179.6 588.6 L179.6 588.6 M179.6 588.6 Q181.3 589.1 184.6 590.1 M184.6 590.1 L217.3 600.2 M217.3 600.2 Q220.5 601.2 220.5 604.6 M220.5 604.6 L220.5 627.8 M220.5 627.8 Q220.5 631.2 219.3 634.3 M219.3 634.3 L219.5 633.9 M216.8 640.8 L217.5 639.0 M217.5 639.0 Q216.3 642.2 212.9 642.4 M212.9 642.4 L195.7 643.3 M195.7 643.3 Q192.3 643.5 189.6 641.4 M189.6 641.4 L157.2 616.8 M157.2 616.8 Q154.5 614.7 155.7 611.6 M155.7 611.6 L156.1 610.8 M157.2 616.8 L189.6 641.4 M189.6 641.4 Q192.3 643.5 189.3 645.1 M189.3 645.1 L140.5 671.5 M140.5 671.5 Q137.5 673.1 135.0 670.9 M135.0 670.9 L127.8 664.4 M127.8 664.4 Q125.2 662.1 125.2 659.4 M125.2 659.4 L125.2 659.4 M125.2 659.4 Q125.2 656.8 127.2 654.0 M127.2 654.0 L152.6 617.5 M152.6 617.5 Q154.5 614.7 157.2 616.8 M152.0 603.2 L151.1 602.8 M151.1 602.8 Q152.8 603.5 153.3 606.9 M153.3 606.9 L153.5 607.7 M153.9 610.5 L154.0 611.4 M154.0 611.4 Q154.5 614.7 152.6 617.5 M152.6 617.5 L127.2 654.0 M127.2 654.0 Q125.2 656.8 125.2 659.4 M125.2 659.4 L125.2 659.4 M125.2 659.4 Q125.2 662.1 127.8 664.4 M127.8 664.4 L135.0 670.9 M135.0 670.9 Q137.5 673.1 137.2 674.9 M137.2 674.9 L137.2 674.9 M137.2 674.9 Q137.0 676.8 136.4 680.1 M136.4 680.1 L135.4 686.4 M113.3 684.6 L104.5 683.8 M140.5 671.5 L189.3 645.1 M189.3 645.1 Q192.3 643.5 195.7 643.3 M195.7 643.3 L212.9 642.4 M212.9 642.4 Q216.3 642.2 216.3 645.6 M216.3 645.6 L215.8 669.5 M209.7 668.7 L211.1 668.9 M211.1 668.9 Q207.7 668.5 204.4 668.9 M204.4 668.9 L204.4 668.9 M204.4 668.9 Q201.0 669.3 198.9 672.0 M198.9 672.0 L176.3 700.7 M176.3 700.7 Q174.2 703.4 171.0 702.4 M171.0 702.4 L134.6 691.7 M135.3 687.0 L137.0 676.5 M137.0 676.5 Q137.5 673.1 140.5 671.5 M176.3 700.7 L198.9 672.0 M198.9 672.0 Q201.0 669.3 204.4 668.9 M204.4 668.9 L204.4 668.9 M204.4 668.9 Q207.7 668.5 209.8 671.1 M209.8 671.1 L208.7 669.7 M213.6 676.1 L213.5 676.0 M213.5 676.0 Q215.6 678.7 215.3 682.1 M215.3 682.1 L212.8 707.0 M212.8 707.0 Q212.4 710.4 209.1 711.2 M209.1 711.2 L201.3 712.9 M201.3 712.9 Q198.0 713.7 194.9 712.3 M194.9 712.3 L177.4 704.7 M177.4 704.7 Q174.2 703.4 176.3 700.7 M219.6 641.2 L219.1 641.4 M222.0 640.6 L235.7 636.7 M235.7 636.7 Q238.9 635.8 240.9 637.6 M240.9 637.6 L239.9 636.7 M241.3 638.1 L240.9 637.6 M240.9 637.6 Q242.8 639.4 242.8 642.8 M242.8 642.8 L243.3 680.3 M243.3 680.3 Q243.4 683.7 241.0 685.5 M241.0 685.5 L241.0 685.5 M241.0 685.5 Q238.7 687.3 235.5 686.1 M235.5 686.1 L218.8 679.9 M218.8 679.9 Q215.6 678.7 215.7 675.3 M215.7 675.3 L215.7 674.1 M215.8 669.5 L216.3 645.6 M216.3 645.6 Q216.3 642.2 219.6 641.2 M246.1 634.4 L299.8 628.6 M299.8 628.6 Q303.2 628.3 305.9 626.1 M305.9 626.1 L331.7 605.6 M331.7 605.6 Q334.4 603.5 336.0 606.2 M336.0 606.2 L336.0 606.2 M336.0 606.2 Q337.6 608.9 339.0 611.9 M339.0 611.9 L343.7 621.9 M337.9 631.1 L330.0 643.6 M330.0 643.6 Q328.2 646.5 329.1 649.8 M329.1 649.8 L329.3 650.5 M329.3 650.5 Q330.1 653.8 331.3 656.9 M331.3 656.9 L339.1 677.3 M339.1 677.3 Q340.3 680.5 340.4 683.9 M340.4 683.9 L341.3 714.4 M335.8 718.0 L330.4 721.6 M319.1 711.3 L302.7 696.3 M302.7 696.3 Q300.2 694.0 296.9 693.4 M296.9 693.4 L246.7 684.3 M246.7 684.3 Q243.4 683.7 243.3 680.3 M243.3 680.3 L242.8 638.1 M242.8 638.1 Q242.7 634.7 246.1 634.4 M100.1 683.5 L113.0 686.6 M134.6 691.7 L171.0 702.4 M171.0 702.4 Q174.2 703.4 177.4 704.7 M177.4 704.7 L194.9 712.3 M194.9 712.3 Q198.0 713.7 201.3 712.9 M201.3 712.9 L209.1 711.2 M209.1 711.2 Q212.4 710.4 211.4 713.6 M211.4 713.6 L210.2 717.3 M210.2 717.3 Q209.1 720.6 208.1 723.8 M208.1 723.8 L206.0 730.2 M206.0 730.2 Q204.9 733.5 201.9 735.1 M201.9 735.1 L162.8 756.2 M162.8 756.2 L201.9 735.1 M201.9 735.1 Q204.9 733.5 205.0 736.9 M205.0 736.9 L205.4 758.4 M205.4 758.4 Q205.4 761.8 204.5 765.1 M204.5 765.1 L197.9 787.9 M212.4 710.4 L212.4 710.4 M212.4 710.4 Q212.4 710.4 215.3 712.2 M215.3 712.2 L277.3 749.9 M277.3 749.9 Q280.2 751.7 280.5 754.2 M280.5 754.2 L280.5 754.2 M280.5 754.2 Q280.7 756.6 277.9 758.0 M277.9 758.0 L277.9 758.0 M277.9 758.0 Q275.0 759.4 272.0 760.8 M272.0 760.8 L238.6 777.0 M238.6 777.0 Q235.5 778.4 233.4 778.4 M233.4 778.4 L234.4 778.4 M231.7 778.3 L233.4 778.4 M233.4 778.4 Q231.2 778.3 228.3 776.4 M228.3 776.4 L208.3 763.7 M208.3 763.7 Q205.4 761.8 205.4 758.4 M205.4 758.4 L205.0 736.9 M205.0 736.9 Q204.9 733.5 206.0 730.2 M206.0 730.2 L211.4 713.6 M211.4 713.6 Q212.4 710.4 212.4 710.4 M197.9 787.9 L204.5 765.1 M204.5 765.1 Q205.4 761.8 208.3 763.7 M208.3 763.7 L231.2 778.3 M231.8 782.9 L232.3 787.1 M232.3 787.1 Q232.8 790.5 235.2 792.9 M235.2 792.9 L246.0 803.2 M246.0 803.2 Q248.5 805.6 251.1 807.7 M251.1 807.7 L255.1 811.0 M218.8 679.9 L235.5 686.1 M235.5 686.1 Q238.7 687.3 241.0 685.5 M241.0 685.5 L241.0 685.5 M241.0 685.5 Q243.4 683.7 246.7 684.3 M246.7 684.3 L294.1 692.9 M294.1 692.9 Q297.4 693.5 300.1 695.0 M300.1 695.0 L300.1 695.0 M300.1 695.0 Q302.8 696.4 305.1 699.0 M305.1 699.0 L317.7 712.9 M328.7 722.1 L337.0 719.7 M343.3 717.8 L344.4 719.8 M344.4 719.8 Q345.5 721.8 347.2 724.8 M347.2 724.8 L357.7 743.4 M357.7 743.4 Q359.3 746.3 361.2 749.2 M361.2 749.2 L367.0 758.0 M255.1 811.0 L251.1 807.7 M251.1 807.7 Q248.5 805.6 246.0 803.2 M246.0 803.2 L235.2 792.9 M235.2 792.9 Q232.8 790.5 232.4 788.0 M232.4 788.0 L232.4 788.0 M232.4 788.0 Q232.1 785.4 233.6 782.4 M233.6 782.4 L233.4 782.8 M235.1 779.3 L234.0 781.5 M234.0 781.5 Q235.5 778.4 238.6 777.0 M238.6 777.0 L277.7 758.1 M277.7 758.1 Q280.7 756.6 280.5 754.2 M280.5 754.2 L280.5 754.2 M280.5 754.2 Q280.2 751.7 277.3 749.9 M277.3 749.9 L215.3 712.2 M215.3 712.2 Q212.4 710.4 212.8 707.0 M212.8 707.0 L215.3 682.1 M215.3 682.1 Q215.6 678.7 218.8 679.9 M343.5 679.4 L358.1 674.7 M358.1 674.7 Q361.3 673.7 364.5 674.7 M364.5 674.7 L367.1 675.6 M378.8 679.3 L404.6 687.5 M404.6 687.5 Q407.9 688.5 411.1 689.5 M411.1 689.5 L454.3 703.1 M454.3 703.1 Q457.5 704.2 458.6 707.4 M458.6 707.4 L460.6 713.1 M457.1 715.6 L449.2 721.4 M449.2 721.4 Q446.4 723.4 446.5 726.8 M446.5 726.8 L447.0 744.3 M447.0 744.3 Q447.1 747.7 444.0 749.2 M444.0 749.2 L419.3 761.4 M366.6 757.4 L344.5 719.7 M341.3 714.4 L340.4 683.9 M340.4 683.9 Q340.3 680.5 343.5 679.4 M419.3 761.4 L444.0 749.2 M444.0 749.2 Q447.1 747.7 447.1 747.7 M447.1 747.7 L447.1 747.7 M447.1 747.7 Q447.1 747.7 449.7 749.9 M449.7 749.9 L468.3 765.3 M468.3 765.3 Q471.0 767.5 472.3 770.7 M472.3 770.7 L471.8 769.5 M446.9 503.0 L453.4 548.7 M453.4 548.7 Q453.9 552.0 452.5 555.1 M452.5 555.1 L452.1 555.9 M442.4 563.9 L436.5 567.6 M436.5 567.6 Q433.7 569.5 430.3 569.6 M430.3 569.6 L399.7 570.9 M397.1 566.3 L391.1 555.6 M391.1 555.6 Q389.4 552.6 390.0 549.2 M390.0 549.2 L391.4 540.7 M391.4 540.7 Q391.9 537.3 393.3 534.2 M393.3 534.2 L401.5 515.6 M401.5 515.6 Q402.9 512.5 406.2 511.7 M406.2 511.7 L405.3 511.9 M530.0 562.8 L495.6 567.3 M495.6 567.3 Q492.2 567.8 489.9 565.3 M489.9 565.3 L479.7 554.2 M479.7 554.2 Q477.4 551.7 474.0 551.3 M474.0 551.3 L463.7 550.0 M463.7 550.0 Q460.3 549.6 457.2 550.8 M457.2 550.8 L457.1 550.8 M457.1 550.8 Q453.9 552.0 453.4 548.7 M453.4 548.7 L446.9 503.0 M457.1 550.8 L457.2 550.8 M457.2 550.8 Q460.3 549.6 463.7 550.0 M463.7 550.0 L474.0 551.3 M474.0 551.3 Q477.4 551.7 479.7 554.2 M479.7 554.2 L489.9 565.3 M489.9 565.3 Q492.2 567.8 491.4 571.1 M491.4 571.1 L486.1 592.5 M486.1 592.5 Q485.3 595.8 481.9 596.0 M481.9 596.0 L471.3 596.8 M471.3 596.8 Q467.9 597.0 465.7 595.3 M465.7 595.3 L465.7 595.3 M465.7 595.3 Q463.6 593.5 462.5 590.3 M462.5 590.3 L455.9 570.5 M455.9 570.5 Q454.8 567.3 454.6 563.9 M454.6 563.9 L454.7 565.4 M454.1 555.9 L454.1 555.4 M454.1 555.4 Q453.9 552.0 457.1 550.8 M495.6 567.3 L530.0 562.8 M547.7 575.3 L533.0 598.1 M533.0 598.1 Q531.1 600.9 527.9 602.0 M527.9 602.0 L499.3 611.6 M499.3 611.6 Q496.1 612.7 494.3 609.9 M494.3 609.9 L487.1 598.7 M487.1 598.7 Q485.3 595.8 486.1 592.5 M486.1 592.5 L491.4 571.1 M491.4 571.1 Q492.2 567.8 495.6 567.3 M399.7 570.9 L430.3 569.6 M430.3 569.6 Q433.7 569.5 433.7 569.5 M433.7 569.5 L433.7 569.5 M433.7 569.5 Q433.7 569.5 433.7 572.9 M433.7 572.9 L433.9 623.1 M433.9 623.1 Q433.9 626.5 431.4 628.9 M431.4 628.9 L410.9 648.1 M410.9 648.1 Q408.4 650.5 406.6 647.6 M406.6 647.6 L403.9 643.1 M399.3 635.8 L401.7 621.3 M401.7 621.3 Q402.2 617.9 405.4 616.6 M405.4 616.6 L413.2 613.4 M413.2 613.4 Q416.3 612.1 416.2 608.7 M416.2 608.7 L416.0 603.1 M416.0 603.1 Q415.8 599.7 413.3 597.4 M413.3 597.4 L399.8 585.4 M397.5 583.4 L398.9 575.6 M433.7 569.5 L444.1 565.6 M453.1 565.8 L452.5 565.3 M452.5 565.3 Q454.8 567.3 455.9 570.5 M455.9 570.5 L462.5 590.3 M462.5 590.3 Q463.6 593.5 465.7 595.3 M465.7 595.3 L465.7 595.3 M465.7 595.3 Q467.9 597.0 471.3 596.8 M471.3 596.8 L481.9 596.0 M481.9 596.0 Q485.3 595.8 487.1 598.7 M487.1 598.7 L494.3 609.9 M494.3 609.9 Q496.1 612.7 494.1 615.5 M494.1 615.5 L492.8 617.3 M492.8 617.3 Q490.8 620.0 490.2 623.4 M490.2 623.4 L482.6 672.6 M482.6 672.6 Q482.1 676.0 479.7 677.4 M479.7 677.4 L479.7 677.4 M479.7 677.4 Q477.2 678.9 473.9 679.6 M473.9 679.6 L467.4 681.1 M467.4 681.1 Q464.0 681.8 463.8 678.4 M463.8 678.4 L462.7 663.0 M462.7 663.0 Q462.5 659.6 460.5 656.8 M460.5 656.8 L460.4 656.6 M460.4 656.6 Q458.4 653.8 455.3 652.5 M455.3 652.5 L454.3 652.0 M454.3 652.0 Q451.2 650.7 447.9 651.5 M447.9 651.5 L412.8 660.2 M412.8 660.2 Q409.5 661.0 409.1 657.7 M409.1 657.7 L408.8 653.9 M408.8 653.9 Q408.4 650.5 410.9 648.1 M410.9 648.1 L428.3 631.8 M428.3 631.8 Q430.8 629.5 432.3 628.0 M432.3 628.0 L432.3 628.0 M432.3 628.0 Q433.9 626.5 433.9 623.1 M433.9 623.1 L433.7 569.5 M340.4 585.9 L375.9 598.4 M375.9 598.4 L393.7 588.5 M393.7 588.5 Q396.7 586.8 399.3 587.0 M399.3 587.0 L397.3 586.9 M399.3 587.0 L399.3 587.0 M399.3 587.0 Q401.8 587.2 404.4 589.5 M404.4 589.5 L413.3 597.4 M413.3 597.4 Q415.8 599.7 416.0 603.1 M416.0 603.1 L416.2 608.7 M416.2 608.7 Q416.3 612.1 413.2 613.4 M413.2 613.4 L405.4 616.6 M405.4 616.6 Q402.2 617.9 401.7 621.3 M401.7 621.3 L399.3 635.8 M396.3 635.3 L393.4 634.7 M393.4 634.7 L364.2 629.5 M364.2 629.5 Q360.8 628.9 357.5 628.2 M357.5 628.2 L345.0 625.4 M344.1 623.3 L342.7 620.1 M342.7 620.1 Q341.4 616.9 339.8 613.9 M339.8 613.9 L329.2 593.6 M330.3 643.8 L340.8 630.7 M345.0 625.4 L357.5 628.2 M357.5 628.2 Q360.8 628.9 360.8 628.9 M360.8 628.9 L360.8 628.9 M360.8 628.9 Q360.8 628.9 360.9 632.3 M360.9 632.3 L361.3 670.3 M361.3 670.3 Q361.3 673.7 358.1 674.7 M358.1 674.7 L343.5 679.4 M343.5 679.4 Q340.3 680.5 339.1 677.3 M339.1 677.3 L330.4 653.4 M330.4 653.4 Q329.2 650.2 328.7 648.4 M328.7 648.4 L328.7 648.4 M328.7 648.4 Q328.2 646.5 330.3 643.8 M364.2 629.5 L390.0 634.1 M390.0 634.1 Q393.4 634.7 395.6 637.3 M395.6 637.3 L395.3 636.9 M398.6 640.6 L381.5 646.7 M381.5 646.7 Q378.3 647.8 378.2 651.2 M378.2 651.2 L377.8 672.8 M367.5 673.4 L364.7 673.5 M364.7 673.5 Q361.3 673.7 361.3 670.3 M361.3 670.3 L360.9 632.3 M360.9 632.3 Q360.8 628.9 364.2 629.5 M381.5 646.7 L398.6 640.6 M402.3 644.3 L406.0 648.1 M406.0 648.1 Q408.4 650.5 408.6 652.2 M408.6 652.2 L408.6 652.2 M408.6 652.2 Q408.8 653.9 408.7 657.3 M408.7 657.3 L408.0 685.1 M408.0 685.1 Q407.9 688.5 404.6 687.5 M404.6 687.5 L377.6 678.9 M377.8 671.1 L378.2 651.2 M378.2 651.2 Q378.3 647.8 381.5 646.7 M412.8 660.2 L447.9 651.5 M447.9 651.5 Q451.2 650.7 454.3 652.0 M454.3 652.0 L455.3 652.5 M455.3 652.5 Q458.4 653.8 460.4 656.6 M460.4 656.6 L460.5 656.8 M460.5 656.8 Q462.5 659.6 462.7 663.0 M462.7 663.0 L463.8 678.4 M463.8 678.4 Q464.0 681.8 463.1 685.1 M463.1 685.1 L458.5 700.9 M458.5 700.9 Q457.5 704.2 454.9 703.3 M454.9 703.3 L454.9 703.3 M454.9 703.3 Q452.3 702.5 449.1 701.5 M449.1 701.5 L407.9 688.5 M407.9 688.5 L409.3 664.4 M409.3 664.4 Q409.5 661.0 412.8 660.2 M616.5 678.5 L616.4 676.3 M616.4 676.3 Q616.6 679.7 613.6 681.5 M613.6 681.5 L611.8 682.6 M611.8 682.6 Q608.9 684.4 605.5 684.5 M605.5 684.5 L570.2 685.5 M570.2 685.5 Q566.8 685.6 563.7 687.0 M563.7 687.0 L513.5 708.1 M513.5 708.1 Q510.4 709.4 510.4 709.4 M510.4 709.4 L510.4 709.4 M510.4 709.4 Q510.4 709.4 509.8 712.7 M509.8 712.7 L507.8 723.2 M507.8 723.2 Q507.2 726.5 503.9 725.8 M503.9 725.8 L461.8 716.4 M460.7 713.3 L458.6 707.4 M458.6 707.4 Q457.5 704.2 458.5 700.9 M458.5 700.9 L463.1 685.1 M463.1 685.1 Q464.0 681.8 467.4 681.1 M467.4 681.1 L473.9 679.6 M473.9 679.6 Q477.2 678.9 479.7 677.4 M479.7 677.4 L479.7 677.4 M479.7 677.4 Q482.1 676.0 482.6 672.6 M482.6 672.6 L490.2 623.4 M490.2 623.4 Q490.8 620.0 492.8 617.3 M492.8 617.3 L496.1 612.7 M496.1 612.7 L527.9 602.0 M527.9 602.0 Q531.1 600.9 533.0 598.1 M533.0 598.1 L547.7 575.3 M611.8 682.6 L617.4 679.2 M612.7 757.7 L607.5 749.8 M607.5 749.8 Q605.7 746.9 606.7 743.6 M606.7 743.6 L615.0 716.8 M615.0 716.8 Q616.0 713.5 615.2 710.2 M615.2 710.2 L609.7 687.7 M609.7 687.7 Q608.9 684.4 611.8 682.6 M510.4 709.4 L563.7 687.0 M563.7 687.0 Q566.8 685.6 570.2 685.5 M570.2 685.5 L605.5 684.5 M605.5 684.5 Q608.9 684.4 609.7 687.7 M609.7 687.7 L615.2 710.2 M615.2 710.2 Q616.0 713.5 615.0 716.8 M615.0 716.8 L606.7 743.6 M606.7 743.6 Q605.7 746.9 607.5 749.8 M607.5 749.8 L612.7 757.7 M525.5 753.2 L509.1 729.3 M509.1 729.3 Q507.2 726.5 507.8 723.2 M507.8 723.2 L510.4 709.4 M449.0 721.5 L449.0 721.5 M449.0 721.5 Q451.6 719.6 454.8 718.6 M454.8 718.6 L458.0 717.6 M461.8 716.4 L503.9 725.8 M503.9 725.8 Q507.2 726.5 509.1 729.3 M509.1 729.3 L523.6 750.4 M523.6 750.4 Q525.5 753.2 526.7 754.5 M526.7 754.5 L527.9 755.8 M472.6 768.0 L473.1 768.2 M473.1 768.2 Q471.0 767.5 468.3 765.3 M468.3 765.3 L449.7 749.9 M449.7 749.9 Q447.1 747.7 447.0 745.5 M447.0 745.5 L447.0 745.5 M447.0 745.5 Q447.0 743.3 446.9 739.9 M446.9 739.9 L446.5 726.8 M446.5 726.8 Q446.4 723.4 449.0 721.5" fill="none" stroke="#fff" stroke-width="2" stroke-linecap="round" stroke-linejoin="round"/>
<g font-family="'Liberation Sans',sans-serif" font-weight="700" font-size="7.9" fill="#2A2628" stroke="#2A2628" stroke-width="0.12" text-anchor="middle" letter-spacing="0.15">
<text transform="translate(87.3 477.8) scale(.9 1)">RUBROUCK</text>
<text transform="translate(154.8 460.8) scale(.9 1)">ARNEKE</text>
<text transform="translate(131.7 503.6) scale(.9 1)">OCHTEZEELE</text>
<text transform="translate(181.9 500.8) scale(.9 1)">WEMAERS</text>
<text transform="translate(183.7 509.8) scale(.9 1)">-CAPPEL</text>
<text transform="translate(57.7 522.4) scale(.9 1)">BUYSSCHEURE</text>
<text transform="translate(97.1 545.5) scale(.9 1)">NOORDPEENE</text>
<text transform="translate(164.3 548.5) scale(.9 1)">ZUYTPEENE</text>
<text transform="translate(201.0 475.6) scale(.9 1)">ZERMEZEELE</text>
<text transform="translate(235.4 494.8) scale(.9 1)">HARDIFORT</text>
<text transform="translate(261.8 460.6) scale(.9 1)">OUDEZEELE</text>
<text transform="translate(241.7 535.5) scale(.9 1)">CASSEL</text>
<text transform="translate(214.8 565.6) scale(.9 1)">OXELAËRE</text>
<text transform="translate(177.2 583.1) scale(.9 1)">BAVINCHOVE</text>
<text transform="translate(272.3 555.5) scale(.9 1)">SAINTE</text>
<text transform="translate(272.3 565.1) scale(.9 1)">-MARIE-</text>
<text transform="translate(272.3 574.1) scale(.9 1)">CAPPEL</text>
<text transform="translate(310.5 535.2) scale(.9 1)">TERDEGHEM</text>
<text transform="translate(317.5 564.2) scale(.9 1)">SAINT-</text>
<text transform="translate(316.0 573.4) scale(.9 1)">SYLVESTRE</text>
<text transform="translate(317.5 582.4) scale(.9 1)">-CAPPEL</text>
<text transform="translate(264.1 615.0) scale(.9 1)">HONDEGHEM</text>
<text transform="translate(348.6 390.8) scale(.9 1)">HOUTKERQUE</text>
<text transform="translate(327.5 437.2) scale(.9 1)">WINNEZEELE</text>
<text transform="translate(343.6 501.1) scale(.9 1)">STEENVOORDE</text>
<text transform="translate(369.5 567.8) scale(.9 1)">EECKE</text>
<text transform="translate(418.9 544.7) scale(.9 1)">GODEWAERSVELDE</text>
<text transform="translate(484.7 533.6) scale(.9 1)">BOESCHEPE</text>
<text transform="translate(472.1 570.8) scale(.9 1)">BERTHEN</text>
<text transform="translate(514.8 586.6) scale(.9 1)">SAINT-JANS</text>
<text transform="translate(515.5 595.9) scale(.9 1)">-CAPPEL</text>
<text transform="translate(418.4 586.2) scale(.9 1)">FLÊTRE</text>
<text transform="translate(462.1 625.0) scale(.9 1)">METEREN</text>
<text transform="translate(375.2 614.2) scale(.9 1)">CAËSTRE</text>
<text transform="translate(371.8 645.9) scale(.9 1)">PRADELLES</text>
<text transform="translate(342.8 656.6) scale(.9 1)">BORRE</text>
<text transform="translate(391.9 663.6) scale(.9 1)">STRAZEELE</text>
<text transform="translate(436.9 679.2) scale(.9 1)">MERRIS</text>
<text transform="translate(285.1 663.2) scale(.9 1)">HAZEBROUCK</text>
<text transform="translate(400.9 717.7) scale(.9 1)">VIEUX-</text>
<text transform="translate(398.5 726.7) scale(.9 1)">BERQUIN</text>
<text transform="translate(313.4 750.4) scale(.9 1)">MORBECQUE</text>
<text transform="translate(449.6 766.7) scale(.9 1)">NEUF-</text>
<text transform="translate(448.6 775.4) scale(.9 1)">BERQUIN</text>
<text transform="translate(539.1 661.9) scale(.9 1)">BAILLEUL</text>
<text transform="translate(649.2 711.2) scale(.9 1)">NIEPPE</text>
<text transform="translate(564.1 731.0) scale(.9 1)">STEENWERCK</text>
<text transform="translate(479.7 745.7) scale(.9 1)">LE DOULIEU</text>
<text transform="translate(192.8 619.5) scale(.9 1)">STAPLE</text>
<text transform="translate(159.1 645.6) scale(.9 1)">EBBLINGHEM</text>
<text transform="translate(101.1 654.6) scale(.9 1)">RENESCURE</text>
<text transform="translate(172.1 676.0) scale(.9 1)">LYNDE</text>
<text transform="translate(197.2 696.7) scale(.9 1)">SERCUS</text>
<text transform="translate(231.6 653.6) scale(.9 1)">WALLON</text>
<text transform="translate(229.6 662.9) scale(.9 1)">-CAPPEL</text>
<text transform="translate(152.5 729.7) scale(.9 1)">BLARINGHEM</text>
<text transform="translate(235.9 750.4) scale(.9 1)">STEENBECQUE</text>
<text transform="translate(182.8 766.1) scale(.9 1)">BOËSEGHEM</text>
<text transform="translate(216.2 794.5) scale(.9 1)">THIENNES</text>
</g>
<path d="M 563.8 573.2 C 583.1 573.1 601.0 562.8 606.3 537.2 C 607.9 528.3 607.4 520.7 605.7 513.8 L 609.6 513.8 C 611.8 520.7 612.3 529.0 611.0 537.9 C 605.9 566.2 584.5 577.2 565.2 576.7 C 563.1 576.1 562.7 574.2 563.8 573.2 Z" fill="#E2625C"/>
<path d="M 599.7 533.8 L 605.7 513.8 L 619.4 520.7" fill="none" stroke="#E2625C" stroke-width="3.4" stroke-linecap="round" stroke-linejoin="round"/>
<path d="M 605.7 513.2 L 601.3 528.3 L 608.6 520.7 L 616.2 519.3 Z" fill="#E2625C"/>
<path d="M 162.4 774.4 C 144.5 777.4 127.9 792.6 126.3 813.3 C 125.4 825.7 130.7 836.7 137.0 845.0 L 140.6 843.1 C 134.8 834.0 130.4 824.3 131.2 813.3 C 132.8 794.0 147.2 780.2 162.4 776.9 C 164.1 776.0 163.8 774.1 162.4 774.4 Z" fill="#21B0E6"/>
<path d="M 124.3 842.0 L 138.7 844.7 L 139.0 824.0" fill="none" stroke="#21B0E6" stroke-width="3.2" stroke-linecap="round" stroke-linejoin="round"/>
<path d="M 127.2 842.2 L 139.0 845.3 L 139.2 829.8 L 136.2 839.5 Z" fill="#21B0E6"/>
<text x="492" y="467.3" font-size="18.6" font-weight="700" fill="#E2605C" textLength="190.5" lengthAdjust="spacingAndGlyphs">Samedi 29 novembre</text>
<text x="492" y="484" font-size="15.6" fill="#2A2628" textLength="114.5" lengthAdjust="spacingAndGlyphs">de 9h30 à 12h30</text>
<text x="492" y="501.6" font-size="12" fill="#2A2628" textLength="148.5" lengthAdjust="spacingAndGlyphs">Espace Part’âge à Bailleul</text>
<text x="62.8" y="868.3" font-size="18.6" font-weight="700" fill="#21B0E6" textLength="190.5" lengthAdjust="spacingAndGlyphs">Samedi 15 novembre</text>
<text x="63.4" y="885.5" font-size="15.6" fill="#2A2628" textLength="115" lengthAdjust="spacingAndGlyphs">de 9h30 à 12h30</text>
<text x="63.4" y="903.8" font-size="12" fill="#2A2628" textLength="210" lengthAdjust="spacingAndGlyphs">Hôtel communautaire à Hazebrouck</text>
<text x="45" y="985.9" font-size="14" font-style="italic" fill="#2A2628" textLength="219" lengthAdjust="spacingAndGlyphs">+ d’infos sur ca-coeurdeflandre.fr</text>
<text x="417.5" y="827.7" font-size="21.5" font-weight="700" fill="#2A2628" textLength="166" lengthAdjust="spacingAndGlyphs">Informations et</text>
<text x="417.5" y="853.8" font-size="21.5" font-weight="700" fill="#2A2628" textLength="241.5" lengthAdjust="spacingAndGlyphs">inscription obligatoire</text>
<text x="417.5" y="878.6" font-size="21.5" font-weight="400" fill="#2A2628" stroke="#2A2628" stroke-width="0.75" textLength="115.5" lengthAdjust="spacingAndGlyphs">auprès de :</text>
<text x="418" y="899.3" font-size="15.2" fill="#2A2628" textLength="261" lengthAdjust="spacingAndGlyphs">justine.guiraud@ca-coeurdeflandre.fr</text>
<text x="418" y="920" font-size="15.2" fill="#2A2628" textLength="100.5" lengthAdjust="spacingAndGlyphs">06.15.97.25.06</text>
<rect x="351.6" y="962" width="87.2" height="35" fill="#1CB4D9"/>
<text x="357" y="986.3" font-size="27.5" font-weight="700" fill="#fff" stroke="#fff" stroke-width="1.1" textLength="77" lengthAdjust="spacingAndGlyphs">Nord</text>
<text x="357.5" y="993.5" font-size="4.6" font-weight="700" fill="#fff" textLength="64" lengthAdjust="spacingAndGlyphs">le Département est là</text>
<path d="M424 991.9h5.5" stroke="#fff" stroke-width="0.7" fill="none"/>
<rect x="455" y="952.7" width="36" height="36.5" fill="#2F72B8"/>
<rect x="455" y="989.2" width="36" height="15.2" fill="#2FA79F"/>
<g fill="#fff" text-anchor="middle"><text x="473" y="982.6" font-size="3.9" font-family="'Liberation Serif',serif">ALLOCATIONS</text><text x="473" y="986.6" font-size="3.9" font-family="'Liberation Serif',serif">FAMILIALES</text><text x="473" y="997.4" font-size="7.4" font-weight="700" font-family="'Liberation Serif',serif">Caf</text><text x="473" y="1002.3" font-size="3.8" font-family="'Liberation Serif',serif">du Nord</text></g>
<circle cx="473.0" cy="957.2" r="1.45" fill="#fff"/><path d="M470.1 958.5 l2.9 1.5 l2.9 -1.5 l.6 .9 l-2.2 2.3 v2.6 h-2.6 v-2.6 l-2.2 -2.3z" fill="#fff"/>
<circle cx="467.2" cy="960.0" r="1.45" fill="#fff"/><path d="M464.3 961.3 l2.9 1.5 l2.9 -1.5 l.6 .9 l-2.2 2.3 v2.6 h-2.6 v-2.6 l-2.2 -2.3z" fill="#fff"/>
<circle cx="478.8" cy="960.0" r="1.45" fill="#fff"/><path d="M475.9 961.3 l2.9 1.5 l2.9 -1.5 l.6 .9 l-2.2 2.3 v2.6 h-2.6 v-2.6 l-2.2 -2.3z" fill="#fff"/>
<circle cx="463.8" cy="965.6" r="1.45" fill="#fff"/><path d="M460.9 966.9 l2.9 1.5 l2.9 -1.5 l.6 .9 l-2.2 2.3 v2.6 h-2.6 v-2.6 l-2.2 -2.3z" fill="#fff"/>
<circle cx="473.0" cy="964.0" r="1.45" fill="#fff"/><path d="M470.1 965.3 l2.9 1.5 l2.9 -1.5 l.6 .9 l-2.2 2.3 v2.6 h-2.6 v-2.6 l-2.2 -2.3z" fill="#fff"/>
<circle cx="482.2" cy="965.6" r="1.45" fill="#fff"/><path d="M479.3 966.9 l2.9 1.5 l2.9 -1.5 l.6 .9 l-2.2 2.3 v2.6 h-2.6 v-2.6 l-2.2 -2.3z" fill="#fff"/>
<circle cx="468.3" cy="970.4" r="1.45" fill="#fff"/><path d="M465.4 971.7 l2.9 1.5 l2.9 -1.5 l.6 .9 l-2.2 2.3 v2.6 h-2.6 v-2.6 l-2.2 -2.3z" fill="#fff"/>
<circle cx="477.7" cy="970.4" r="1.45" fill="#fff"/><path d="M474.8 971.7 l2.9 1.5 l2.9 -1.5 l.6 .9 l-2.2 2.3 v2.6 h-2.6 v-2.6 l-2.2 -2.3z" fill="#fff"/>
<circle cx="473.0" cy="971.2" r="1.45" fill="#fff"/><path d="M470.1 972.5 l2.9 1.5 l2.9 -1.5 l.6 .9 l-2.2 2.3 v2.6 h-2.6 v-2.6 l-2.2 -2.3z" fill="#fff"/>
<path d="M457 968.4h5.5M483.5 968.4h5.5" stroke="#C9D8EE" stroke-width="1.3"/>
<rect x="518.8" y="964.3" width="22.6" height="23.5" fill="#2B5EA7"/>
<g fill="none" stroke="#fff" stroke-width="1.9"><path d="M521.5 975.2 v-6.5 q0 -1.8 2 -1.8 h2.6 q2 0 2 1.8 v6.5 M528.1 968.7 q0 -1.8 2 -1.8 h2.6 q2 0 2 1.8 v6.5"/><path d="M528.3 979 h-5 q-1.6 0 -1.6 1.3 q0 1.3 1.6 1.3 h3.4 q1.6 0 1.6 1.3 q0 1.4 -1.6 1.4 h-5.2 M531 979 h5 q1.8 0 1.8 1.6 v4.5 h-5.4 q-1.6 0 -1.6 -1.5 q0 -1.6 1.6 -1.6 h5.2"/></g>
<g font-size="4.3" font-weight="700" fill="#2B5EA7" stroke="#2B5EA7" stroke-width="0.15"><text x="545" y="968.8">santé</text><text x="545" y="974.3">famille</text><text x="545" y="979.8">retraite</text><text x="545" y="985.3">services</text></g>
<g stroke="#F5A33B" stroke-width="0.5"><path d="M543.5 964.8h24.5M543.5 970.3h24.5M543.5 975.8h24.5M543.5 981.3h24.5M543.5 986.8h24.5"/></g>
<text x="506.5" y="994.6" font-size="3.9" fill="#2B5EA7" textLength="50.5" lengthAdjust="spacingAndGlyphs">L’essentiel <tspan fill="#F39A2B" font-weight="700" font-size="5">&amp;</tspan> plus encore</text>
<g font-weight="700" fill="#333132" stroke="#333132" stroke-width="0.45">
<text x="584.6" y="973.2" font-size="15" textLength="10.8" lengthAdjust="spacingAndGlyphs">C</text>
<text x="613.3" y="973.2" font-size="15" textLength="28" lengthAdjust="spacingAndGlyphs">EUR</text>
<text x="642.8" y="973.2" font-size="9.6" textLength="13.4" lengthAdjust="spacingAndGlyphs">DE</text>
<text x="612.2" y="987.3" font-size="15.7" textLength="70.6" lengthAdjust="spacingAndGlyphs">FLANDRE</text>
<text x="612.6" y="996.8" font-size="8.9" textLength="28.8" lengthAdjust="spacingAndGlyphs">AGGLO</text>
</g>
<path d="M604.20 966.25 C602.56 963.03 596.00 963.03 596.00 967.32 C596.00 970.67 601.74 973.75 604.20 976.70 C606.66 973.75 612.40 970.67 612.40 967.32 C612.40 963.03 605.84 963.03 604.20 966.25Z" fill="none" stroke="#333132" stroke-width="3.00" stroke-linejoin="round"/>
<rect x="596.5" y="980.6" width="12.4" height="2.6" fill="#F5B82E"/>
</svg></body></html>
